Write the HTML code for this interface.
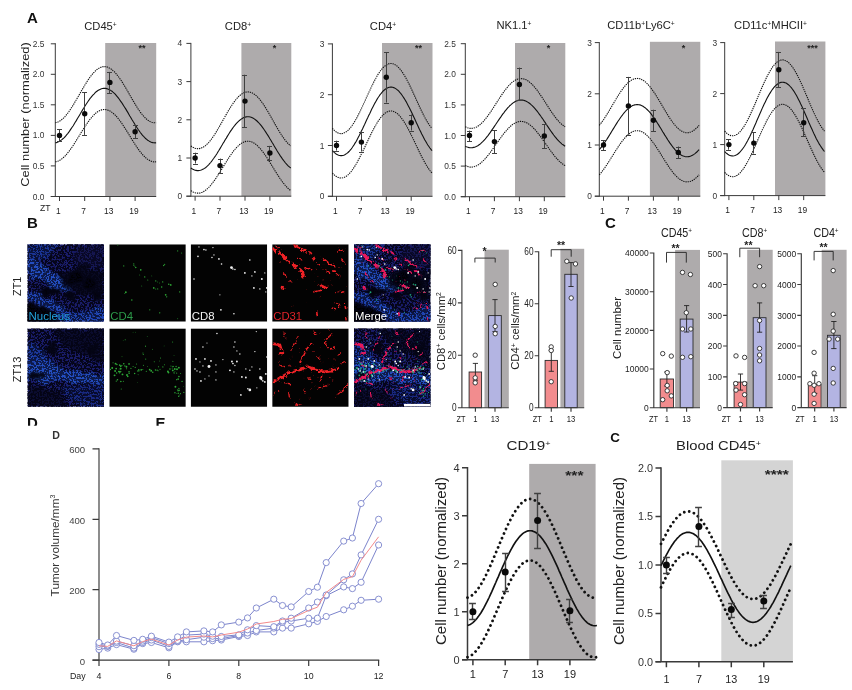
<!DOCTYPE html><html><head><meta charset="utf-8"><title>Figure</title><style>html,body{margin:0;padding:0;background:#fff}svg{display:block}text{font-family:"Liberation Sans", Arial, Helvetica, sans-serif}</style></head><body>
<svg width="852" height="690" viewBox="0 0 852 690">
<rect width="852" height="690" fill="#fff"/>
<defs>
<filter id="blur1" x="-20%" y="-20%" width="140%" height="140%" color-interpolation-filters="sRGB"><feTurbulence type="fractalNoise" baseFrequency="0.07" numOctaves="2" seed="8" result="t"/><feDisplacementMap in="SourceGraphic" in2="t" scale="16" xChannelSelector="R" yChannelSelector="G"/><feGaussianBlur stdDeviation="1.3"/></filter>
<filter id="blur2" x="-20%" y="-20%" width="140%" height="140%"><feGaussianBlur stdDeviation="0.55"/></filter>
<filter id="rag" x="-5%" y="-5%" width="110%" height="110%" color-interpolation-filters="sRGB"><feTurbulence type="fractalNoise" baseFrequency="0.22" numOctaves="2" seed="5" result="t"/><feDisplacementMap in="SourceGraphic" in2="t" scale="6" xChannelSelector="R" yChannelSelector="G" result="d"/><feColorMatrix in="t" type="matrix" values="0 0 0 0 0  0 0 0 0 0  0 0 0 0 0  0 0 12 0 -4.1" result="m"/><feComposite in="d" in2="m" operator="in"/><feGaussianBlur stdDeviation="0.35"/></filter>
<filter id="speck" x="0" y="0" width="100%" height="100%" color-interpolation-filters="sRGB"><feTurbulence type="fractalNoise" baseFrequency="0.42" numOctaves="3" seed="3"/><feColorMatrix type="matrix" values="0 0 0 0 0.02  0 0 0 0 0.02  0 0 0 0 0.1  14 0 0 0 -6.05"/></filter>
<filter id="speck2" x="0" y="0" width="100%" height="100%" color-interpolation-filters="sRGB"><feTurbulence type="fractalNoise" baseFrequency="0.42" numOctaves="3" seed="11"/><feColorMatrix type="matrix" values="0 0 0 0 0.02  0 0 0 0 0.02  0 0 0 0 0.1  14 0 0 0 -6.05"/></filter>
</defs>
<text x="27.0" y="23.0" font-size="15.00" text-anchor="start" fill="#111" font-weight="bold" >A</text>
<text transform="translate(28.7,114.5) rotate(-90)" font-size="10.30" text-anchor="middle" fill="#222" textLength="144.5" lengthAdjust="spacingAndGlyphs">Cell number (normalized)</text>
<text x="40.0" y="211.4" font-size="8.60" text-anchor="start" fill="#222" font-weight="normal" >ZT</text>
<rect x="105.2" y="43.0" width="51.0" height="153.5" fill="#AEABAC"/>
<path d="M55.3 43.2 V197.0 M50.8 196.5 H156.2" stroke="#3a3a3a" stroke-width="1.00" fill="none"/>
<text x="44.4" y="199.5" font-size="8.40" text-anchor="end" fill="#333" font-weight="normal" >0.0</text>
<text x="44.4" y="169.0" font-size="8.40" text-anchor="end" fill="#333" font-weight="normal" >0.5</text>
<text x="44.4" y="138.4" font-size="8.40" text-anchor="end" fill="#333" font-weight="normal" >1.0</text>
<text x="44.4" y="107.9" font-size="8.40" text-anchor="end" fill="#333" font-weight="normal" >1.5</text>
<text x="44.4" y="77.3" font-size="8.40" text-anchor="end" fill="#333" font-weight="normal" >2.0</text>
<text x="44.4" y="46.8" font-size="8.40" text-anchor="end" fill="#333" font-weight="normal" >2.5</text>
<text x="58.3" y="213.9" font-size="8.40" text-anchor="middle" fill="#222" font-weight="normal" >1</text>
<text x="83.5" y="213.9" font-size="8.40" text-anchor="middle" fill="#222" font-weight="normal" >7</text>
<text x="108.7" y="213.9" font-size="8.40" text-anchor="middle" fill="#222" font-weight="normal" >13</text>
<text x="133.9" y="213.9" font-size="8.40" text-anchor="middle" fill="#222" font-weight="normal" >19</text>
<path d="M50.8 196.5 H55.3 M50.8 165.9 H55.3 M50.8 135.4 H55.3 M50.8 104.8 H55.3 M50.8 74.3 H55.3 M50.8 43.8 H55.3 M59.5 196.5 V201.0 M84.7 196.5 V201.0 M109.9 196.5 V201.0 M135.1 196.5 V201.0 " stroke="#3a3a3a" stroke-width="1.00" fill="none"/>
<polyline points="55.3,142.8 56.3,142.6 57.4,142.3 58.4,141.8 59.5,141.3 60.5,140.6 61.6,139.9 62.6,139.0 63.7,138.1 64.8,137.0 65.8,135.9 66.8,134.6 67.9,133.3 69.0,131.9 70.0,130.4 71.0,128.9 72.1,127.3 73.2,125.7 74.2,124.0 75.2,122.3 76.3,120.6 77.3,118.8 78.4,117.0 79.5,115.2 80.5,113.5 81.5,111.7 82.6,109.9 83.7,108.2 84.7,106.5 85.8,104.8 86.8,103.2 87.8,101.7 88.9,100.2 89.9,98.7 91.0,97.4 92.0,96.1 93.1,94.9 94.2,93.8 95.2,92.7 96.2,91.8 97.3,91.0 98.3,90.3 99.4,89.7 100.4,89.2 101.5,88.8 102.5,88.5 103.6,88.4 104.7,88.4 105.7,88.4 106.8,88.6 107.8,88.9 108.8,89.4 109.9,89.9 111.0,90.6 112.0,91.3 113.0,92.2 114.1,93.1 115.2,94.2 116.2,95.4 117.2,96.6 118.3,97.9 119.3,99.3 120.4,100.8 121.5,102.3 122.5,103.9 123.5,105.5 124.6,107.2 125.7,108.9 126.7,110.6 127.8,112.4 128.8,114.2 129.8,116.0 130.9,117.7 131.9,119.5 133.0,121.3 134.1,123.0 135.1,124.7 136.2,126.4 137.2,128.0 138.2,129.5 139.3,131.0 140.3,132.5 141.4,133.8 142.4,135.1 143.5,136.3 144.6,137.4 145.6,138.5 146.7,139.4 147.7,140.2 148.8,140.9 149.8,141.5 150.8,142.0 151.9,142.4 152.9,142.7 154.0,142.8 155.1,142.9 156.1,142.8" fill="none" stroke="#111" stroke-width="1.10"/>
<polyline points="55.3,122.7 56.3,122.5 57.4,122.2 58.4,121.8 59.5,121.2 60.5,120.5 61.6,119.8 62.6,118.9 63.7,117.9 64.8,116.8 65.8,115.6 66.8,114.3 67.9,113.0 69.0,111.5 70.0,110.0 71.0,108.4 72.1,106.8 73.2,105.1 74.2,103.4 75.2,101.6 76.3,99.8 77.3,98.0 78.4,96.2 79.5,94.3 80.5,92.5 81.5,90.7 82.6,88.9 83.7,87.1 84.7,85.3 85.8,83.6 86.8,81.9 87.8,80.3 88.9,78.8 89.9,77.3 91.0,75.9 92.0,74.6 93.1,73.3 94.2,72.2 95.2,71.1 96.2,70.2 97.3,69.3 98.3,68.6 99.4,68.0 100.4,67.5 101.5,67.1 102.5,66.8 103.6,66.6 104.7,66.6 105.7,66.7 106.8,66.9 107.8,67.2 108.8,67.7 109.9,68.2 111.0,68.9 112.0,69.7 113.0,70.6 114.1,71.5 115.2,72.6 116.2,73.8 117.2,75.1 118.3,76.5 119.3,77.9 120.4,79.4 121.5,81.0 122.5,82.6 123.5,84.3 124.6,86.0 125.7,87.8 126.7,89.6 127.8,91.4 128.8,93.2 129.8,95.1 130.9,96.9 131.9,98.7 133.0,100.6 134.1,102.3 135.1,104.1 136.2,105.8 137.2,107.5 138.2,109.1 139.3,110.6 140.3,112.1 141.4,113.5 142.4,114.8 143.5,116.1 144.6,117.2 145.6,118.3 146.7,119.2 147.7,120.1 148.8,120.8 149.8,121.4 150.8,121.9 151.9,122.3 152.9,122.6 154.0,122.8 155.1,122.8 156.1,122.7" fill="none" stroke="#111" stroke-width="1.10" stroke-dasharray="1.3 0.9" stroke-linecap="butt"/>
<polyline points="55.3,161.8 56.3,161.6 57.4,161.3 58.4,160.9 59.5,160.4 60.5,159.8 61.6,159.1 62.6,158.2 63.7,157.3 64.8,156.3 65.8,155.2 66.8,154.0 67.9,152.7 69.0,151.4 70.0,150.0 71.0,148.5 72.1,147.0 73.2,145.4 74.2,143.8 75.2,142.2 76.3,140.5 77.3,138.8 78.4,137.1 79.5,135.4 80.5,133.6 81.5,131.9 82.6,130.3 83.7,128.6 84.7,127.0 85.8,125.4 86.8,123.8 87.8,122.3 88.9,120.9 89.9,119.5 91.0,118.2 92.0,116.9 93.1,115.8 94.2,114.7 95.2,113.7 96.2,112.8 97.3,112.0 98.3,111.4 99.4,110.8 100.4,110.3 101.5,109.9 102.5,109.7 103.6,109.5 104.7,109.5 105.7,109.6 106.8,109.8 107.8,110.1 108.8,110.5 109.9,111.0 111.0,111.6 112.0,112.4 113.0,113.2 114.1,114.1 115.2,115.1 116.2,116.2 117.2,117.4 118.3,118.7 119.3,120.0 120.4,121.4 121.5,122.9 122.5,124.4 123.5,126.0 124.6,127.6 125.7,129.3 126.7,130.9 127.8,132.6 128.8,134.3 129.8,136.0 130.9,137.8 131.9,139.5 133.0,141.2 134.1,142.8 135.1,144.5 136.2,146.1 137.2,147.6 138.2,149.1 139.3,150.6 140.3,151.9 141.4,153.2 142.4,154.5 143.5,155.6 144.6,156.7 145.6,157.7 146.7,158.6 147.7,159.4 148.8,160.1 149.8,160.6 150.8,161.1 151.9,161.5 152.9,161.7 154.0,161.9 155.1,161.9 156.1,161.8" fill="none" stroke="#111" stroke-width="1.10" stroke-dasharray="1.3 0.9" stroke-linecap="butt"/>
<path d="M59.5 129.3 V141.2 M57.0 129.5 H62.0 M57.0 141.5 H62.0" stroke="#404040" stroke-width="1.00" fill="none"/>
<circle cx="59.5" cy="135.4" r="2.7" fill="#0a0a0a"/>
<path d="M84.5 92.0 V134.9 M82.0 92.5 H87.0 M82.0 135.5 H87.0" stroke="#404040" stroke-width="1.00" fill="none"/>
<circle cx="84.7" cy="113.7" r="2.7" fill="#0a0a0a"/>
<path d="M109.5 71.9 V93.2 M107.0 72.5 H112.0 M107.0 93.5 H112.0" stroke="#404040" stroke-width="1.00" fill="none"/>
<circle cx="109.9" cy="82.4" r="2.7" fill="#0a0a0a"/>
<path d="M135.5 125.0 V138.0 M133.0 125.5 H138.0 M133.0 138.5 H138.0" stroke="#404040" stroke-width="1.00" fill="none"/>
<circle cx="135.1" cy="131.7" r="2.7" fill="#0a0a0a"/>
<text x="100.5" y="30.2" font-size="11.20" text-anchor="middle" fill="#222" font-weight="normal" >CD45<tspan dy="-3.7" font-size="6.7">+</tspan></text>
<text x="142.0" y="50.5" font-size="9.00" text-anchor="middle" fill="#222" font-weight="bold" >**</text>
<rect x="241.4" y="43.0" width="49.9" height="153.2" fill="#AEABAC"/>
<path d="M190.9 42.9 V196.7 M186.4 196.2 H291.3" stroke="#3a3a3a" stroke-width="1.00" fill="none"/>
<text x="182.2" y="199.2" font-size="8.40" text-anchor="end" fill="#333" font-weight="normal" >0</text>
<text x="182.2" y="161.0" font-size="8.40" text-anchor="end" fill="#333" font-weight="normal" >1</text>
<text x="182.2" y="122.8" font-size="8.40" text-anchor="end" fill="#333" font-weight="normal" >2</text>
<text x="182.2" y="84.6" font-size="8.40" text-anchor="end" fill="#333" font-weight="normal" >3</text>
<text x="182.2" y="46.4" font-size="8.40" text-anchor="end" fill="#333" font-weight="normal" >4</text>
<text x="193.9" y="213.9" font-size="8.40" text-anchor="middle" fill="#222" font-weight="normal" >1</text>
<text x="218.8" y="213.9" font-size="8.40" text-anchor="middle" fill="#222" font-weight="normal" >7</text>
<text x="243.8" y="213.9" font-size="8.40" text-anchor="middle" fill="#222" font-weight="normal" >13</text>
<text x="268.7" y="213.9" font-size="8.40" text-anchor="middle" fill="#222" font-weight="normal" >19</text>
<path d="M186.4 196.2 H190.9 M186.4 158.0 H190.9 M186.4 119.8 H190.9 M186.4 81.6 H190.9 M186.4 43.4 H190.9 M195.1 196.2 V200.7 M220.0 196.2 V200.7 M245.0 196.2 V200.7 M269.9 196.2 V200.7 " stroke="#3a3a3a" stroke-width="1.00" fill="none"/>
<polyline points="190.9,168.0 191.9,168.7 193.0,169.3 194.0,169.8 195.1,170.2 196.1,170.4 197.1,170.6 198.2,170.6 199.2,170.5 200.3,170.3 201.3,170.0 202.3,169.6 203.4,169.1 204.4,168.4 205.5,167.7 206.5,166.8 207.5,165.9 208.6,164.8 209.6,163.7 210.7,162.5 211.7,161.2 212.7,159.8 213.8,158.3 214.8,156.8 215.9,155.3 216.9,153.7 217.9,152.0 219.0,150.3 220.0,148.6 221.1,146.8 222.1,145.1 223.1,143.3 224.2,141.6 225.2,139.8 226.3,138.1 227.3,136.4 228.3,134.7 229.4,133.0 230.4,131.4 231.5,129.9 232.5,128.4 233.5,127.0 234.6,125.7 235.6,124.4 236.7,123.2 237.7,122.1 238.7,121.1 239.8,120.2 240.8,119.4 241.9,118.7 242.9,118.1 243.9,117.6 245.0,117.2 246.0,116.9 247.1,116.8 248.1,116.7 249.1,116.8 250.2,117.0 251.2,117.3 252.3,117.8 253.3,118.3 254.3,118.9 255.4,119.7 256.4,120.5 257.5,121.5 258.5,122.5 259.5,123.7 260.6,124.9 261.6,126.2 262.7,127.6 263.7,129.0 264.7,130.5 265.8,132.1 266.8,133.7 267.9,135.4 268.9,137.0 269.9,138.8 271.0,140.5 272.0,142.3 273.1,144.0 274.1,145.8 275.1,147.5 276.2,149.3 277.2,151.0 278.3,152.7 279.3,154.3 280.3,155.9 281.4,157.4 282.4,158.9 283.5,160.3 284.5,161.7 285.5,163.0 286.6,164.2 287.6,165.3 288.7,166.3 289.7,167.2 290.7,168.0" fill="none" stroke="#111" stroke-width="1.10"/>
<polyline points="190.9,145.9 191.9,146.7 193.0,147.3 194.0,147.8 195.1,148.2 196.1,148.5 197.1,148.6 198.2,148.7 199.2,148.6 200.3,148.4 201.3,148.1 202.3,147.6 203.4,147.1 204.4,146.4 205.5,145.6 206.5,144.7 207.5,143.7 208.6,142.6 209.6,141.4 210.7,140.1 211.7,138.7 212.7,137.3 213.8,135.8 214.8,134.2 215.9,132.5 216.9,130.8 217.9,129.1 219.0,127.3 220.0,125.5 221.1,123.6 222.1,121.8 223.1,119.9 224.2,118.1 225.2,116.2 226.3,114.4 227.3,112.6 228.3,110.8 229.4,109.1 230.4,107.4 231.5,105.8 232.5,104.2 233.5,102.7 234.6,101.3 235.6,100.0 236.7,98.7 237.7,97.6 238.7,96.5 239.8,95.5 240.8,94.7 241.9,93.9 242.9,93.3 243.9,92.8 245.0,92.4 246.0,92.1 247.1,92.0 248.1,91.9 249.1,92.0 250.2,92.2 251.2,92.5 252.3,93.0 253.3,93.5 254.3,94.2 255.4,95.0 256.4,95.9 257.5,96.9 258.5,98.0 259.5,99.2 260.6,100.5 261.6,101.9 262.7,103.3 263.7,104.8 264.7,106.4 265.8,108.1 266.8,109.8 267.9,111.5 268.9,113.3 269.9,115.1 271.0,117.0 272.0,118.8 273.1,120.7 274.1,122.5 275.1,124.4 276.2,126.2 277.2,128.0 278.3,129.8 279.3,131.5 280.3,133.2 281.4,134.8 282.4,136.4 283.5,137.9 284.5,139.3 285.5,140.6 286.6,141.9 287.6,143.0 288.7,144.1 289.7,145.1 290.7,145.9" fill="none" stroke="#111" stroke-width="1.10" stroke-dasharray="1.3 0.9" stroke-linecap="butt"/>
<polyline points="190.9,190.6 191.9,191.3 193.0,191.9 194.0,192.3 195.1,192.7 196.1,193.0 197.1,193.1 198.2,193.1 199.2,193.1 200.3,192.9 201.3,192.6 202.3,192.2 203.4,191.7 204.4,191.0 205.5,190.3 206.5,189.5 207.5,188.6 208.6,187.6 209.6,186.5 210.7,185.3 211.7,184.0 212.7,182.7 213.8,181.3 214.8,179.9 215.9,178.4 216.9,176.8 217.9,175.2 219.0,173.6 220.0,171.9 221.1,170.2 222.1,168.5 223.1,166.8 224.2,165.1 225.2,163.4 226.3,161.8 227.3,160.1 228.3,158.5 229.4,156.9 230.4,155.4 231.5,153.9 232.5,152.5 233.5,151.1 234.6,149.8 235.6,148.6 236.7,147.4 237.7,146.4 238.7,145.4 239.8,144.5 240.8,143.7 241.9,143.0 242.9,142.5 243.9,142.0 245.0,141.6 246.0,141.4 247.1,141.2 248.1,141.2 249.1,141.3 250.2,141.5 251.2,141.8 252.3,142.2 253.3,142.7 254.3,143.3 255.4,144.0 256.4,144.8 257.5,145.8 258.5,146.8 259.5,147.9 260.6,149.0 261.6,150.3 262.7,151.6 263.7,153.0 264.7,154.5 265.8,156.0 266.8,157.5 267.9,159.1 268.9,160.8 269.9,162.4 271.0,164.1 272.0,165.8 273.1,167.5 274.1,169.2 275.1,170.9 276.2,172.6 277.2,174.2 278.3,175.8 279.3,177.4 280.3,179.0 281.4,180.4 282.4,181.9 283.5,183.2 284.5,184.5 285.5,185.8 286.6,186.9 287.6,188.0 288.7,189.0 289.7,189.8 290.7,190.6" fill="none" stroke="#111" stroke-width="1.10" stroke-dasharray="1.3 0.9" stroke-linecap="butt"/>
<path d="M195.5 152.7 V163.5 M193.0 153.5 H198.0 M193.0 164.5 H198.0" stroke="#404040" stroke-width="1.00" fill="none"/>
<circle cx="195.1" cy="158.0" r="2.7" fill="#0a0a0a"/>
<path d="M220.5 158.6 V172.9 M218.0 159.5 H223.0 M218.0 173.5 H223.0" stroke="#404040" stroke-width="1.00" fill="none"/>
<circle cx="220.0" cy="165.6" r="2.7" fill="#0a0a0a"/>
<path d="M244.5 74.7 V127.4 M242.0 75.5 H247.0 M242.0 127.5 H247.0" stroke="#404040" stroke-width="1.00" fill="none"/>
<circle cx="245.0" cy="101.1" r="2.7" fill="#0a0a0a"/>
<path d="M269.5 145.9 V160.3 M267.0 146.5 H272.0 M267.0 160.5 H272.0" stroke="#404040" stroke-width="1.00" fill="none"/>
<circle cx="269.9" cy="153.0" r="2.7" fill="#0a0a0a"/>
<text x="238.0" y="30.2" font-size="11.20" text-anchor="middle" fill="#222" font-weight="normal" >CD8<tspan dy="-3.7" font-size="6.7">+</tspan></text>
<text x="274.5" y="50.5" font-size="9.00" text-anchor="middle" fill="#222" font-weight="bold" >*</text>
<rect x="382.0" y="43.0" width="50.5" height="153.3" fill="#AEABAC"/>
<path d="M332.4 43.4 V196.8 M327.9 196.3 H432.5" stroke="#3a3a3a" stroke-width="1.00" fill="none"/>
<text x="324.3" y="199.3" font-size="8.40" text-anchor="end" fill="#333" font-weight="normal" >0</text>
<text x="324.3" y="148.5" font-size="8.40" text-anchor="end" fill="#333" font-weight="normal" >1</text>
<text x="324.3" y="97.7" font-size="8.40" text-anchor="end" fill="#333" font-weight="normal" >2</text>
<text x="324.3" y="46.9" font-size="8.40" text-anchor="end" fill="#333" font-weight="normal" >3</text>
<text x="335.3" y="213.9" font-size="8.40" text-anchor="middle" fill="#222" font-weight="normal" >1</text>
<text x="360.2" y="213.9" font-size="8.40" text-anchor="middle" fill="#222" font-weight="normal" >7</text>
<text x="385.1" y="213.9" font-size="8.40" text-anchor="middle" fill="#222" font-weight="normal" >13</text>
<text x="410.1" y="213.9" font-size="8.40" text-anchor="middle" fill="#222" font-weight="normal" >19</text>
<path d="M327.9 196.3 H332.4 M327.9 145.5 H332.4 M327.9 94.7 H332.4 M327.9 43.9 H332.4 M336.5 196.3 V200.8 M361.4 196.3 V200.8 M386.3 196.3 V200.8 M411.2 196.3 V200.8 " stroke="#3a3a3a" stroke-width="1.00" fill="none"/>
<polyline points="332.4,150.6 333.4,151.7 334.5,152.7 335.5,153.5 336.5,154.2 337.6,154.8 338.6,155.2 339.7,155.5 340.7,155.6 341.7,155.6 342.8,155.5 343.8,155.2 344.8,154.7 345.9,154.1 346.9,153.4 348.0,152.5 349.0,151.5 350.0,150.4 351.1,149.1 352.1,147.7 353.1,146.2 354.2,144.6 355.2,142.9 356.3,141.2 357.3,139.3 358.3,137.3 359.4,135.3 360.4,133.2 361.4,131.1 362.5,128.9 363.5,126.7 364.6,124.5 365.6,122.3 366.6,120.0 367.7,117.8 368.7,115.6 369.8,113.4 370.8,111.2 371.8,109.1 372.9,107.0 373.9,105.0 374.9,103.1 376.0,101.2 377.0,99.4 378.0,97.8 379.1,96.2 380.1,94.7 381.2,93.4 382.2,92.1 383.2,91.0 384.3,90.0 385.3,89.2 386.3,88.5 387.4,87.9 388.4,87.5 389.5,87.2 390.5,87.1 391.5,87.1 392.6,87.3 393.6,87.6 394.6,88.0 395.7,88.6 396.7,89.4 397.8,90.2 398.8,91.2 399.8,92.4 400.9,93.6 401.9,95.0 402.9,96.5 404.0,98.1 405.0,99.8 406.1,101.6 407.1,103.5 408.1,105.4 409.2,107.4 410.2,109.5 411.2,111.6 412.3,113.8 413.3,116.0 414.4,118.2 415.4,120.5 416.4,122.7 417.5,125.0 418.5,127.2 419.5,129.4 420.6,131.5 421.6,133.7 422.7,135.7 423.7,137.7 424.7,139.7 425.8,141.5 426.8,143.3 427.8,145.0 428.9,146.5 429.9,148.0 431.0,149.4 432.0,150.6" fill="none" stroke="#111" stroke-width="1.10"/>
<polyline points="332.4,128.4 333.4,129.6 334.5,130.6 335.5,131.4 336.5,132.2 337.6,132.7 338.6,133.2 339.7,133.5 340.7,133.6 341.7,133.6 342.8,133.4 343.8,133.1 344.8,132.6 345.9,132.0 346.9,131.3 348.0,130.4 349.0,129.4 350.0,128.2 351.1,126.9 352.1,125.5 353.1,124.0 354.2,122.4 355.2,120.6 356.3,118.8 357.3,116.9 358.3,114.9 359.4,112.8 360.4,110.7 361.4,108.5 362.5,106.3 363.5,104.0 364.6,101.8 365.6,99.5 366.6,97.2 367.7,94.9 368.7,92.6 369.8,90.4 370.8,88.2 371.8,86.0 372.9,83.9 373.9,81.8 374.9,79.9 376.0,78.0 377.0,76.1 378.0,74.4 379.1,72.8 380.1,71.3 381.2,69.9 382.2,68.7 383.2,67.5 384.3,66.5 385.3,65.7 386.3,65.0 387.4,64.4 388.4,63.9 389.5,63.7 390.5,63.5 391.5,63.5 392.6,63.7 393.6,64.0 394.6,64.5 395.7,65.1 396.7,65.8 397.8,66.7 398.8,67.8 399.8,68.9 400.9,70.2 401.9,71.6 402.9,73.1 404.0,74.8 405.0,76.5 406.1,78.3 407.1,80.2 408.1,82.2 409.2,84.3 410.2,86.4 411.2,88.6 412.3,90.8 413.3,93.1 414.4,95.4 415.4,97.6 416.4,99.9 417.5,102.2 418.5,104.5 419.5,106.7 420.6,109.0 421.6,111.1 422.7,113.2 423.7,115.3 424.7,117.3 425.8,119.2 426.8,121.0 427.8,122.7 428.9,124.3 429.9,125.8 431.0,127.2 432.0,128.4" fill="none" stroke="#111" stroke-width="1.10" stroke-dasharray="1.3 0.9" stroke-linecap="butt"/>
<polyline points="332.4,173.1 333.4,174.2 334.5,175.1 335.5,175.9 336.5,176.6 337.6,177.2 338.6,177.6 339.7,177.9 340.7,178.0 341.7,178.0 342.8,177.8 343.8,177.5 344.8,177.1 345.9,176.5 346.9,175.8 348.0,174.9 349.0,173.9 350.0,172.8 351.1,171.6 352.1,170.3 353.1,168.8 354.2,167.2 355.2,165.6 356.3,163.8 357.3,162.0 358.3,160.1 359.4,158.1 360.4,156.1 361.4,154.0 362.5,151.9 363.5,149.7 364.6,147.6 365.6,145.4 366.6,143.2 367.7,141.0 368.7,138.8 369.8,136.7 370.8,134.5 371.8,132.5 372.9,130.4 373.9,128.5 374.9,126.6 376.0,124.8 377.0,123.0 378.0,121.4 379.1,119.9 380.1,118.4 381.2,117.1 382.2,115.9 383.2,114.8 384.3,113.9 385.3,113.0 386.3,112.3 387.4,111.8 388.4,111.4 389.5,111.1 390.5,111.0 391.5,111.0 392.6,111.1 393.6,111.4 394.6,111.9 395.7,112.5 396.7,113.2 397.8,114.0 398.8,115.0 399.8,116.1 400.9,117.4 401.9,118.7 402.9,120.2 404.0,121.7 405.0,123.4 406.1,125.1 407.1,127.0 408.1,128.9 409.2,130.8 410.2,132.9 411.2,135.0 412.3,137.1 413.3,139.2 414.4,141.4 415.4,143.6 416.4,145.8 417.5,148.0 418.5,150.2 419.5,152.3 420.6,154.4 421.6,156.5 422.7,158.5 423.7,160.5 424.7,162.4 425.8,164.2 426.8,165.9 427.8,167.6 428.9,169.1 429.9,170.5 431.0,171.9 432.0,173.1" fill="none" stroke="#111" stroke-width="1.10" stroke-dasharray="1.3 0.9" stroke-linecap="butt"/>
<path d="M336.5 140.7 V150.6 M334.0 141.5 H339.0 M334.0 151.5 H339.0" stroke="#404040" stroke-width="1.00" fill="none"/>
<circle cx="336.5" cy="145.5" r="2.7" fill="#0a0a0a"/>
<path d="M361.5 132.3 V151.6 M359.0 132.5 H364.0 M359.0 152.5 H364.0" stroke="#404040" stroke-width="1.00" fill="none"/>
<circle cx="361.4" cy="142.1" r="2.7" fill="#0a0a0a"/>
<path d="M386.5 52.0 V102.6 M384.0 52.5 H389.0 M384.0 103.5 H389.0" stroke="#404040" stroke-width="1.00" fill="none"/>
<circle cx="386.3" cy="77.2" r="2.7" fill="#0a0a0a"/>
<path d="M411.5 114.5 V130.5 M409.0 115.5 H414.0 M409.0 131.5 H414.0" stroke="#404040" stroke-width="1.00" fill="none"/>
<circle cx="411.2" cy="122.7" r="2.7" fill="#0a0a0a"/>
<text x="383.0" y="30.2" font-size="11.20" text-anchor="middle" fill="#222" font-weight="normal" >CD4<tspan dy="-3.7" font-size="6.7">+</tspan></text>
<text x="418.4" y="50.5" font-size="9.00" text-anchor="middle" fill="#222" font-weight="bold" >**</text>
<rect x="515.0" y="43.0" width="50.3" height="153.7" fill="#AEABAC"/>
<path d="M465.3 43.2 V197.2 M460.8 196.7 H565.3" stroke="#3a3a3a" stroke-width="1.00" fill="none"/>
<text x="455.8" y="199.7" font-size="8.40" text-anchor="end" fill="#333" font-weight="normal" >0.0</text>
<text x="455.8" y="169.1" font-size="8.40" text-anchor="end" fill="#333" font-weight="normal" >0.5</text>
<text x="455.8" y="138.5" font-size="8.40" text-anchor="end" fill="#333" font-weight="normal" >1.0</text>
<text x="455.8" y="107.9" font-size="8.40" text-anchor="end" fill="#333" font-weight="normal" >1.5</text>
<text x="455.8" y="77.3" font-size="8.40" text-anchor="end" fill="#333" font-weight="normal" >2.0</text>
<text x="455.8" y="46.7" font-size="8.40" text-anchor="end" fill="#333" font-weight="normal" >2.5</text>
<text x="468.3" y="213.9" font-size="8.40" text-anchor="middle" fill="#222" font-weight="normal" >1</text>
<text x="493.2" y="213.9" font-size="8.40" text-anchor="middle" fill="#222" font-weight="normal" >7</text>
<text x="518.2" y="213.9" font-size="8.40" text-anchor="middle" fill="#222" font-weight="normal" >13</text>
<text x="543.1" y="213.9" font-size="8.40" text-anchor="middle" fill="#222" font-weight="normal" >19</text>
<path d="M460.8 196.7 H465.3 M460.8 166.1 H465.3 M460.8 135.5 H465.3 M460.8 104.9 H465.3 M460.8 74.3 H465.3 M460.8 43.7 H465.3 M469.5 196.7 V201.2 M494.4 196.7 V201.2 M519.4 196.7 V201.2 M544.3 196.7 V201.2 " stroke="#3a3a3a" stroke-width="1.00" fill="none"/>
<polyline points="465.3,146.2 466.3,146.7 467.4,147.1 468.4,147.4 469.5,147.6 470.5,147.7 471.5,147.7 472.6,147.6 473.6,147.4 474.7,147.2 475.7,146.8 476.7,146.3 477.8,145.7 478.8,145.0 479.9,144.2 480.9,143.4 481.9,142.4 483.0,141.4 484.0,140.3 485.1,139.1 486.1,137.9 487.1,136.6 488.2,135.3 489.2,133.9 490.3,132.4 491.3,130.9 492.3,129.4 493.4,127.9 494.4,126.4 495.5,124.8 496.5,123.2 497.5,121.7 498.6,120.1 499.6,118.6 500.7,117.1 501.7,115.6 502.7,114.2 503.8,112.8 504.8,111.4 505.9,110.1 506.9,108.9 507.9,107.7 509.0,106.6 510.0,105.5 511.1,104.6 512.1,103.7 513.1,102.9 514.2,102.2 515.2,101.6 516.3,101.1 517.3,100.7 518.3,100.3 519.4,100.1 520.4,100.0 521.5,100.0 522.5,100.1 523.5,100.3 524.6,100.6 525.6,101.0 526.7,101.5 527.7,102.1 528.7,102.7 529.8,103.5 530.8,104.4 531.9,105.3 532.9,106.3 533.9,107.4 535.0,108.6 536.0,109.8 537.1,111.1 538.1,112.5 539.1,113.9 540.2,115.3 541.2,116.8 542.3,118.3 543.3,119.8 544.3,121.4 545.4,122.9 546.4,124.5 547.5,126.1 548.5,127.6 549.5,129.1 550.6,130.7 551.6,132.1 552.7,133.6 553.7,135.0 554.7,136.3 555.8,137.6 556.8,138.9 557.9,140.1 558.9,141.2 559.9,142.2 561.0,143.2 562.0,144.1 563.1,144.8 564.1,145.5 565.1,146.2" fill="none" stroke="#111" stroke-width="1.10"/>
<polyline points="465.3,126.7 466.3,127.3 467.4,127.7 468.4,128.0 469.5,128.3 470.5,128.4 471.5,128.4 472.6,128.3 473.6,128.1 474.7,127.8 475.7,127.4 476.7,126.9 477.8,126.2 478.8,125.5 479.9,124.7 480.9,123.8 481.9,122.8 483.0,121.8 484.0,120.6 485.1,119.4 486.1,118.1 487.1,116.8 488.2,115.4 489.2,113.9 490.3,112.4 491.3,110.9 492.3,109.3 493.4,107.7 494.4,106.1 495.5,104.5 496.5,102.8 497.5,101.2 498.6,99.6 499.6,98.0 500.7,96.4 501.7,94.9 502.7,93.4 503.8,91.9 504.8,90.5 505.9,89.1 506.9,87.8 507.9,86.6 509.0,85.4 510.0,84.3 511.1,83.3 512.1,82.4 513.1,81.6 514.2,80.9 515.2,80.2 516.3,79.7 517.3,79.3 518.3,78.9 519.4,78.7 520.4,78.6 521.5,78.6 522.5,78.7 523.5,78.9 524.6,79.2 525.6,79.6 526.7,80.1 527.7,80.7 528.7,81.4 529.8,82.3 530.8,83.2 531.9,84.1 532.9,85.2 533.9,86.3 535.0,87.6 536.0,88.9 537.1,90.2 538.1,91.6 539.1,93.1 540.2,94.6 541.2,96.1 542.3,97.7 543.3,99.3 544.3,100.9 545.4,102.5 546.4,104.1 547.5,105.8 548.5,107.4 549.5,109.0 550.6,110.6 551.6,112.1 552.7,113.6 553.7,115.1 554.7,116.5 555.8,117.9 556.8,119.2 557.9,120.4 558.9,121.6 559.9,122.6 561.0,123.6 562.0,124.6 563.1,125.4 564.1,126.1 565.1,126.7" fill="none" stroke="#111" stroke-width="1.10" stroke-dasharray="1.3 0.9" stroke-linecap="butt"/>
<polyline points="465.3,165.6 466.3,166.1 467.4,166.4 468.4,166.7 469.5,167.0 470.5,167.1 471.5,167.1 472.6,167.0 473.6,166.8 474.7,166.5 475.7,166.1 476.7,165.7 477.8,165.1 478.8,164.5 479.9,163.7 480.9,162.9 481.9,162.0 483.0,161.0 484.0,160.0 485.1,158.8 486.1,157.7 487.1,156.4 488.2,155.1 489.2,153.8 490.3,152.4 491.3,151.0 492.3,149.6 493.4,148.1 494.4,146.6 495.5,145.1 496.5,143.7 497.5,142.2 498.6,140.7 499.6,139.2 500.7,137.8 501.7,136.4 502.7,135.0 503.8,133.6 504.8,132.3 505.9,131.1 506.9,129.9 507.9,128.8 509.0,127.7 510.0,126.7 511.1,125.8 512.1,124.9 513.1,124.2 514.2,123.5 515.2,122.9 516.3,122.5 517.3,122.1 518.3,121.8 519.4,121.5 520.4,121.4 521.5,121.4 522.5,121.5 523.5,121.7 524.6,122.0 525.6,122.4 526.7,122.8 527.7,123.4 528.7,124.0 529.8,124.8 530.8,125.6 531.9,126.5 532.9,127.5 533.9,128.5 535.0,129.7 536.0,130.8 537.1,132.1 538.1,133.4 539.1,134.7 540.2,136.1 541.2,137.5 542.3,138.9 543.3,140.4 544.3,141.9 545.4,143.4 546.4,144.8 547.5,146.3 548.5,147.8 549.5,149.3 550.6,150.7 551.6,152.2 552.7,153.5 553.7,154.9 554.7,156.2 555.8,157.4 556.8,158.6 557.9,159.7 558.9,160.8 559.9,161.8 561.0,162.7 562.0,163.6 563.1,164.3 564.1,165.0 565.1,165.6" fill="none" stroke="#111" stroke-width="1.10" stroke-dasharray="1.3 0.9" stroke-linecap="butt"/>
<path d="M469.5 130.6 V141.3 M467.0 131.5 H472.0 M467.0 141.5 H472.0" stroke="#404040" stroke-width="1.00" fill="none"/>
<circle cx="469.5" cy="135.5" r="2.7" fill="#0a0a0a"/>
<path d="M494.5 130.1 V153.3 M492.0 130.5 H497.0 M492.0 153.5 H497.0" stroke="#404040" stroke-width="1.00" fill="none"/>
<circle cx="494.4" cy="141.6" r="2.7" fill="#0a0a0a"/>
<path d="M519.5 67.6 V100.0 M517.0 68.5 H522.0 M517.0 100.5 H522.0" stroke="#404040" stroke-width="1.00" fill="none"/>
<circle cx="519.4" cy="84.5" r="2.7" fill="#0a0a0a"/>
<path d="M544.5 124.5 V148.0 M542.0 124.5 H547.0 M542.0 148.5 H547.0" stroke="#404040" stroke-width="1.00" fill="none"/>
<circle cx="544.3" cy="136.0" r="2.7" fill="#0a0a0a"/>
<text x="514.0" y="29.2" font-size="11.20" text-anchor="middle" fill="#222" font-weight="normal" >NK1.1<tspan dy="-3.7" font-size="6.7">+</tspan></text>
<text x="548.4" y="50.5" font-size="9.00" text-anchor="middle" fill="#222" font-weight="bold" >*</text>
<rect x="649.9" y="41.8" width="50.4" height="154.4" fill="#AEABAC"/>
<path d="M599.3 42.1 V196.7 M594.8 196.2 H700.3" stroke="#3a3a3a" stroke-width="1.00" fill="none"/>
<text x="591.8" y="199.2" font-size="8.40" text-anchor="end" fill="#333" font-weight="normal" >0</text>
<text x="591.8" y="148.0" font-size="8.40" text-anchor="end" fill="#333" font-weight="normal" >1</text>
<text x="591.8" y="96.8" font-size="8.40" text-anchor="end" fill="#333" font-weight="normal" >2</text>
<text x="591.8" y="45.6" font-size="8.40" text-anchor="end" fill="#333" font-weight="normal" >3</text>
<text x="602.3" y="213.9" font-size="8.40" text-anchor="middle" fill="#222" font-weight="normal" >1</text>
<text x="627.2" y="213.9" font-size="8.40" text-anchor="middle" fill="#222" font-weight="normal" >7</text>
<text x="652.2" y="213.9" font-size="8.40" text-anchor="middle" fill="#222" font-weight="normal" >13</text>
<text x="677.1" y="213.9" font-size="8.40" text-anchor="middle" fill="#222" font-weight="normal" >19</text>
<path d="M594.8 196.2 H599.3 M594.8 145.0 H599.3 M594.8 93.8 H599.3 M594.8 42.6 H599.3 M603.5 196.2 V200.7 M628.4 196.2 V200.7 M653.4 196.2 V200.7 M678.3 196.2 V200.7 " stroke="#3a3a3a" stroke-width="1.00" fill="none"/>
<polyline points="599.3,149.6 600.3,148.4 601.4,147.1 602.4,145.7 603.5,144.3 604.5,142.8 605.5,141.3 606.6,139.7 607.6,138.1 608.7,136.4 609.7,134.7 610.7,133.1 611.8,131.3 612.8,129.6 613.9,127.9 614.9,126.2 615.9,124.6 617.0,122.9 618.0,121.3 619.1,119.7 620.1,118.2 621.1,116.7 622.2,115.3 623.2,114.0 624.3,112.7 625.3,111.5 626.3,110.4 627.4,109.3 628.4,108.4 629.5,107.6 630.5,106.8 631.5,106.2 632.6,105.6 633.6,105.2 634.7,104.9 635.7,104.7 636.7,104.6 637.8,104.6 638.8,104.7 639.9,104.9 640.9,105.3 641.9,105.7 643.0,106.3 644.0,107.0 645.1,107.7 646.1,108.6 647.1,109.5 648.2,110.6 649.2,111.7 650.3,112.9 651.3,114.2 652.3,115.6 653.4,117.0 654.4,118.5 655.5,120.0 656.5,121.6 657.5,123.2 658.6,124.9 659.6,126.6 660.7,128.3 661.7,130.0 662.7,131.7 663.8,133.4 664.8,135.1 665.9,136.8 666.9,138.4 667.9,140.0 669.0,141.6 670.0,143.1 671.1,144.6 672.1,146.0 673.1,147.4 674.2,148.6 675.2,149.8 676.3,151.0 677.3,152.0 678.3,152.9 679.4,153.8 680.4,154.5 681.5,155.2 682.5,155.7 683.5,156.1 684.6,156.5 685.6,156.7 686.7,156.8 687.7,156.8 688.7,156.6 689.8,156.4 690.8,156.1 691.9,155.6 692.9,155.0 693.9,154.4 695.0,153.6 696.0,152.7 697.1,151.8 698.1,150.7 699.1,149.6" fill="none" stroke="#111" stroke-width="1.10"/>
<polyline points="599.3,125.3 600.3,124.0 601.4,122.7 602.4,121.2 603.5,119.8 604.5,118.2 605.5,116.6 606.6,115.0 607.6,113.3 608.7,111.6 609.7,109.8 610.7,108.1 611.8,106.3 612.8,104.5 613.9,102.7 614.9,101.0 615.9,99.2 617.0,97.5 618.0,95.9 619.1,94.2 620.1,92.6 621.1,91.1 622.2,89.6 623.2,88.2 624.3,86.9 625.3,85.6 626.3,84.5 627.4,83.4 628.4,82.4 629.5,81.6 630.5,80.8 631.5,80.1 632.6,79.6 633.6,79.1 634.7,78.8 635.7,78.6 636.7,78.4 637.8,78.5 638.8,78.6 639.9,78.8 640.9,79.2 641.9,79.7 643.0,80.2 644.0,80.9 645.1,81.7 646.1,82.6 647.1,83.6 648.2,84.7 649.2,85.9 650.3,87.2 651.3,88.5 652.3,89.9 653.4,91.4 654.4,92.9 655.5,94.5 656.5,96.2 657.5,97.9 658.6,99.6 659.6,101.3 660.7,103.1 661.7,104.9 662.7,106.6 663.8,108.4 664.8,110.2 665.9,111.9 666.9,113.6 667.9,115.3 669.0,116.9 670.0,118.5 671.1,120.1 672.1,121.5 673.1,122.9 674.2,124.3 675.2,125.5 676.3,126.7 677.3,127.7 678.3,128.7 679.4,129.6 680.4,130.4 681.5,131.0 682.5,131.6 683.5,132.0 684.6,132.4 685.6,132.6 686.7,132.7 687.7,132.7 688.7,132.6 689.8,132.3 690.8,132.0 691.9,131.5 692.9,130.9 693.9,130.2 695.0,129.4 696.0,128.5 697.1,127.5 698.1,126.4 699.1,125.3" fill="none" stroke="#111" stroke-width="1.10" stroke-dasharray="1.3 0.9" stroke-linecap="butt"/>
<polyline points="599.3,174.8 600.3,173.6 601.4,172.4 602.4,171.0 603.5,169.6 604.5,168.2 605.5,166.7 606.6,165.1 607.6,163.5 608.7,161.9 609.7,160.3 610.7,158.6 611.8,156.9 612.8,155.3 613.9,153.6 614.9,151.9 615.9,150.3 617.0,148.7 618.0,147.1 619.1,145.5 620.1,144.0 621.1,142.6 622.2,141.2 623.2,139.9 624.3,138.6 625.3,137.5 626.3,136.4 627.4,135.4 628.4,134.4 629.5,133.6 630.5,132.9 631.5,132.2 632.6,131.7 633.6,131.3 634.7,131.0 635.7,130.8 636.7,130.7 637.8,130.7 638.8,130.8 639.9,131.0 640.9,131.4 641.9,131.8 643.0,132.4 644.0,133.0 645.1,133.8 646.1,134.6 647.1,135.6 648.2,136.6 649.2,137.7 650.3,138.9 651.3,140.2 652.3,141.5 653.4,142.9 654.4,144.3 655.5,145.9 656.5,147.4 657.5,149.0 658.6,150.6 659.6,152.3 660.7,153.9 661.7,155.6 662.7,157.3 663.8,158.9 664.8,160.6 665.9,162.2 666.9,163.9 667.9,165.4 669.0,167.0 670.0,168.5 671.1,169.9 672.1,171.3 673.1,172.6 674.2,173.9 675.2,175.1 676.3,176.2 677.3,177.2 678.3,178.1 679.4,178.9 680.4,179.7 681.5,180.3 682.5,180.8 683.5,181.2 684.6,181.5 685.6,181.8 686.7,181.9 687.7,181.8 688.7,181.7 689.8,181.5 690.8,181.2 691.9,180.7 692.9,180.2 693.9,179.5 695.0,178.8 696.0,177.9 697.1,177.0 698.1,175.9 699.1,174.8" fill="none" stroke="#111" stroke-width="1.10" stroke-dasharray="1.3 0.9" stroke-linecap="butt"/>
<path d="M603.5 140.1 V150.1 M601.0 140.5 H606.0 M601.0 150.5 H606.0" stroke="#404040" stroke-width="1.00" fill="none"/>
<circle cx="603.5" cy="145.0" r="2.7" fill="#0a0a0a"/>
<path d="M628.5 76.9 V134.8 M626.0 77.5 H631.0 M626.0 135.5 H631.0" stroke="#404040" stroke-width="1.00" fill="none"/>
<circle cx="628.4" cy="105.9" r="2.7" fill="#0a0a0a"/>
<path d="M653.5 109.7 V131.2 M651.0 110.5 H656.0 M651.0 131.5 H656.0" stroke="#404040" stroke-width="1.00" fill="none"/>
<circle cx="653.4" cy="120.3" r="2.7" fill="#0a0a0a"/>
<path d="M678.5 146.5 V158.3 M676.0 147.5 H681.0 M676.0 158.5 H681.0" stroke="#404040" stroke-width="1.00" fill="none"/>
<circle cx="678.3" cy="152.4" r="2.7" fill="#0a0a0a"/>
<text x="641.0" y="29.2" font-size="11.20" text-anchor="middle" fill="#222" font-weight="normal" >CD11b<tspan dy="-3.7" font-size="6.7">+</tspan><tspan dy="3.7">Ly6C</tspan><tspan dy="-3.7" font-size="6.7">+</tspan></text>
<text x="683.5" y="50.5" font-size="9.00" text-anchor="middle" fill="#222" font-weight="bold" >*</text>
<rect x="775.0" y="41.5" width="50.4" height="154.1" fill="#AEABAC"/>
<path d="M724.7 42.1 V196.1 M720.2 195.6 H825.4" stroke="#3a3a3a" stroke-width="1.00" fill="none"/>
<text x="717.2" y="198.6" font-size="8.40" text-anchor="end" fill="#333" font-weight="normal" >0</text>
<text x="717.2" y="147.6" font-size="8.40" text-anchor="end" fill="#333" font-weight="normal" >1</text>
<text x="717.2" y="96.6" font-size="8.40" text-anchor="end" fill="#333" font-weight="normal" >2</text>
<text x="717.2" y="45.6" font-size="8.40" text-anchor="end" fill="#333" font-weight="normal" >3</text>
<text x="727.7" y="212.9" font-size="8.40" text-anchor="middle" fill="#222" font-weight="normal" >1</text>
<text x="752.6" y="212.9" font-size="8.40" text-anchor="middle" fill="#222" font-weight="normal" >7</text>
<text x="777.6" y="212.9" font-size="8.40" text-anchor="middle" fill="#222" font-weight="normal" >13</text>
<text x="802.5" y="212.9" font-size="8.40" text-anchor="middle" fill="#222" font-weight="normal" >19</text>
<path d="M720.2 195.6 H724.7 M720.2 144.6 H724.7 M720.2 93.6 H724.7 M720.2 42.6 H724.7 M728.9 195.6 V200.1 M753.8 195.6 V200.1 M778.8 195.6 V200.1 M803.7 195.6 V200.1 " stroke="#3a3a3a" stroke-width="1.00" fill="none"/>
<polyline points="724.7,151.5 725.7,152.6 726.8,153.5 727.8,154.3 728.9,155.0 729.9,155.4 730.9,155.8 732.0,155.9 733.0,156.0 734.1,155.8 735.1,155.5 736.1,155.1 737.2,154.5 738.2,153.7 739.3,152.8 740.3,151.7 741.3,150.5 742.4,149.2 743.4,147.8 744.5,146.2 745.5,144.5 746.5,142.7 747.6,140.8 748.6,138.8 749.7,136.7 750.7,134.5 751.7,132.3 752.8,130.0 753.8,127.7 754.9,125.3 755.9,123.0 756.9,120.5 758.0,118.1 759.0,115.7 760.1,113.3 761.1,111.0 762.1,108.6 763.2,106.3 764.2,104.1 765.3,101.9 766.3,99.8 767.3,97.8 768.4,95.9 769.4,94.1 770.5,92.4 771.5,90.8 772.5,89.3 773.6,87.9 774.6,86.7 775.7,85.6 776.7,84.7 777.7,83.9 778.8,83.2 779.8,82.8 780.9,82.4 781.9,82.3 782.9,82.2 784.0,82.4 785.0,82.7 786.1,83.1 787.1,83.7 788.1,84.5 789.2,85.4 790.2,86.5 791.3,87.7 792.3,89.0 793.3,90.4 794.4,92.0 795.4,93.7 796.5,95.5 797.5,97.4 798.5,99.4 799.6,101.5 800.6,103.7 801.7,105.9 802.7,108.2 803.7,110.5 804.8,112.9 805.8,115.2 806.9,117.7 807.9,120.1 808.9,122.5 810.0,124.9 811.0,127.2 812.1,129.6 813.1,131.9 814.1,134.1 815.2,136.3 816.2,138.4 817.3,140.4 818.3,142.3 819.3,144.1 820.4,145.8 821.4,147.4 822.5,148.9 823.5,150.3 824.5,151.5" fill="none" stroke="#111" stroke-width="1.10"/>
<polyline points="724.7,131.2 725.7,132.3 726.8,133.3 727.8,134.1 728.9,134.7 729.9,135.2 730.9,135.6 732.0,135.7 733.0,135.8 734.1,135.6 735.1,135.3 736.1,134.8 737.2,134.2 738.2,133.4 739.3,132.5 740.3,131.4 741.3,130.2 742.4,128.8 743.4,127.3 744.5,125.7 745.5,124.0 746.5,122.1 747.6,120.1 748.6,118.1 749.7,115.9 750.7,113.7 751.7,111.4 752.8,109.1 753.8,106.7 754.9,104.3 755.9,101.8 756.9,99.3 758.0,96.8 759.0,94.4 760.1,91.9 761.1,89.5 762.1,87.1 763.2,84.7 764.2,82.4 765.3,80.2 766.3,78.0 767.3,75.9 768.4,74.0 769.4,72.1 770.5,70.3 771.5,68.7 772.5,67.1 773.6,65.7 774.6,64.5 775.7,63.4 776.7,62.4 777.7,61.6 778.8,60.9 779.8,60.4 780.9,60.1 781.9,59.9 782.9,59.9 784.0,60.0 785.0,60.4 786.1,60.8 787.1,61.5 788.1,62.2 789.2,63.2 790.2,64.3 791.3,65.5 792.3,66.8 793.3,68.3 794.4,70.0 795.4,71.7 796.5,73.6 797.5,75.5 798.5,77.6 799.6,79.7 800.6,81.9 801.7,84.2 802.7,86.6 803.7,89.0 804.8,91.4 805.8,93.9 806.9,96.3 807.9,98.8 808.9,101.3 810.0,103.8 811.0,106.2 812.1,108.6 813.1,111.0 814.1,113.3 815.2,115.5 816.2,117.7 817.3,119.7 818.3,121.7 819.3,123.6 820.4,125.4 821.4,127.0 822.5,128.5 823.5,129.9 824.5,131.2" fill="none" stroke="#111" stroke-width="1.10" stroke-dasharray="1.3 0.9" stroke-linecap="butt"/>
<polyline points="724.7,172.3 725.7,173.4 726.8,174.3 727.8,175.1 728.9,175.7 729.9,176.2 730.9,176.5 732.0,176.7 733.0,176.7 734.1,176.6 735.1,176.3 736.1,175.8 737.2,175.2 738.2,174.5 739.3,173.6 740.3,172.6 741.3,171.4 742.4,170.1 743.4,168.7 744.5,167.1 745.5,165.4 746.5,163.7 747.6,161.8 748.6,159.8 749.7,157.8 750.7,155.7 751.7,153.5 752.8,151.3 753.8,149.0 754.9,146.7 755.9,144.3 756.9,141.9 758.0,139.6 759.0,137.2 760.1,134.9 761.1,132.5 762.1,130.2 763.2,128.0 764.2,125.8 765.3,123.7 766.3,121.6 767.3,119.6 768.4,117.7 769.4,115.9 770.5,114.3 771.5,112.7 772.5,111.2 773.6,109.9 774.6,108.7 775.7,107.6 776.7,106.7 777.7,105.9 778.8,105.3 779.8,104.8 780.9,104.5 781.9,104.3 782.9,104.3 784.0,104.5 785.0,104.8 786.1,105.2 787.1,105.8 788.1,106.5 789.2,107.4 790.2,108.5 791.3,109.6 792.3,110.9 793.3,112.4 794.4,113.9 795.4,115.6 796.5,117.4 797.5,119.2 798.5,121.2 799.6,123.2 800.6,125.4 801.7,127.5 802.7,129.8 803.7,132.1 804.8,134.4 805.8,136.7 806.9,139.1 807.9,141.5 808.9,143.8 810.0,146.2 811.0,148.5 812.1,150.8 813.1,153.1 814.1,155.2 815.2,157.4 816.2,159.4 817.3,161.4 818.3,163.3 819.3,165.1 820.4,166.8 821.4,168.4 822.5,169.8 823.5,171.1 824.5,172.3" fill="none" stroke="#111" stroke-width="1.10" stroke-dasharray="1.3 0.9" stroke-linecap="butt"/>
<path d="M728.5 139.2 V149.7 M726.0 139.5 H731.0 M726.0 150.5 H731.0" stroke="#404040" stroke-width="1.00" fill="none"/>
<circle cx="728.9" cy="144.6" r="2.7" fill="#0a0a0a"/>
<path d="M753.5 132.2 V153.5 M751.0 132.5 H756.0 M751.0 154.5 H756.0" stroke="#404040" stroke-width="1.00" fill="none"/>
<circle cx="753.8" cy="143.1" r="2.7" fill="#0a0a0a"/>
<path d="M778.5 51.9 V87.0 M776.0 52.5 H781.0 M776.0 87.5 H781.0" stroke="#404040" stroke-width="1.00" fill="none"/>
<circle cx="778.8" cy="69.8" r="2.7" fill="#0a0a0a"/>
<path d="M803.5 108.1 V136.4 M801.0 108.5 H806.0 M801.0 136.5 H806.0" stroke="#404040" stroke-width="1.00" fill="none"/>
<circle cx="803.7" cy="122.7" r="2.7" fill="#0a0a0a"/>
<text x="770.5" y="29.2" font-size="11.20" text-anchor="middle" fill="#222" font-weight="normal" >CD11c<tspan dy="-3.7" font-size="6.7">+</tspan><tspan dy="3.7">MHCII</tspan><tspan dy="-3.7" font-size="6.7">+</tspan></text>
<text x="812.6" y="50.8" font-size="9.00" text-anchor="middle" fill="#222" font-weight="bold" >***</text>
<text x="27.0" y="227.5" font-size="15.00" text-anchor="start" fill="#111" font-weight="bold" >B</text>
<text transform="translate(21.4,286.3) rotate(-90)" font-size="11.00" text-anchor="middle" fill="#222">ZT1</text>
<text transform="translate(21.4,369.5) rotate(-90)" font-size="11.00" text-anchor="middle" fill="#222">ZT13</text>
<defs>
<g id="ns1"><g filter="url(#blur1)">
<path d="M0 0 L40 0 L30 14 L0 22Z" fill="#1c3a9c" opacity="0.8"/>
<path d="M0 22 L10 20 L40 40 L58 56 L50 64 L28 54 L0 40Z" fill="#2450c4" opacity="0.95"/>
<path d="M0 64 L15 66 L42 76 L62 92 L100 80 L100 103 L50 103 L34 88 L0 74Z" fill="#214abc" opacity="0.9"/>
<path d="M62 0 H100 V34 L60 24Z" fill="#15164e" opacity="0.8"/>
<path d="M-12 76 L20 82 L36 92 L52 125 L-12 125Z" fill="#000" opacity="1"/>
<path d="M38 34 L100 36 L100 62 L70 66 L48 58Z" fill="#000" opacity="0.6"/>
<ellipse cx="62" cy="44" rx="10" ry="6" fill="#000" opacity="0.9"/><ellipse cx="82" cy="52" rx="9" ry="7" fill="#000" opacity="0.85"/>
<ellipse cx="28" cy="62" rx="13" ry="5" fill="#000" opacity="0.85"/><ellipse cx="55" cy="68" rx="9" ry="5" fill="#000" opacity="0.75"/>
<ellipse cx="72" cy="30" rx="8" ry="5" fill="#000" opacity="0.6"/><ellipse cx="90" cy="66" rx="6" ry="7" fill="#000" opacity="0.7"/>
</g></g>
<g id="n1"><rect width="100" height="102.5" fill="#191c68"/><use href="#ns1"/><rect width="100" height="102.5" filter="url(#speck)"/><use href="#ns1" opacity="0.3"/></g>
<g id="g1"><circle cx="32.0" cy="25.7" r="0.79"/><circle cx="33.3" cy="28.3" r="0.69"/><circle cx="34.6" cy="30.4" r="0.99"/><circle cx="31.5" cy="27.8" r="0.64"/><circle cx="71.1" cy="27.8" r="0.92"/><circle cx="72.4" cy="26.2" r="0.82"/><circle cx="39.8" cy="40.0" r="0.63"/><circle cx="46.3" cy="42.6" r="0.90"/><circle cx="55.5" cy="41.3" r="0.62"/><circle cx="60.7" cy="47.9" r="0.86"/><circle cx="63.3" cy="49.2" r="0.64"/><circle cx="65.9" cy="50.5" r="0.65"/><circle cx="69.8" cy="49.2" r="0.85"/><circle cx="58.1" cy="57.0" r="1.10"/><circle cx="60.7" cy="58.3" r="0.67"/><circle cx="63.3" cy="58.3" r="0.73"/><circle cx="68.5" cy="55.7" r="0.98"/><circle cx="80.3" cy="53.1" r="1.17"/><circle cx="77.7" cy="52.3" r="0.95"/><circle cx="92.0" cy="62.2" r="0.84"/><circle cx="21.6" cy="62.7" r="1.19"/><circle cx="20.2" cy="64.3" r="0.63"/><circle cx="73.7" cy="66.1" r="1.12"/><circle cx="89.4" cy="8.7" r="0.77"/><circle cx="94.6" cy="11.3" r="0.69"/><circle cx="11.1" cy="0.9" r="0.67"/><circle cx="18.9" cy="28.3" r="0.79"/><circle cx="41.1" cy="33.5" r="1.09"/><circle cx="50.3" cy="46.6" r="0.71"/><circle cx="75.0" cy="68.7" r="0.95"/><circle cx="29.4" cy="72.7" r="0.98"/><circle cx="52.9" cy="85.7" r="0.82"/><circle cx="65.9" cy="89.6" r="0.93"/><circle cx="89.4" cy="97.4" r="0.64"/><circle cx="42.4" cy="54.4" r="0.64"/></g>
<g id="w1"><circle cx="10.8" cy="3.5" r="0.81"/><circle cx="17.3" cy="6.9" r="1.07"/><circle cx="19.9" cy="7.4" r="0.94"/><circle cx="29.1" cy="4.3" r="0.87"/><circle cx="9.5" cy="15.8" r="1.02"/><circle cx="27.8" cy="17.3" r="0.95"/><circle cx="30.4" cy="13.9" r="0.86"/><circle cx="36.9" cy="19.2" r="1.14"/><circle cx="40.3" cy="25.7" r="1.08"/><circle cx="53.3" cy="30.4" r="1.80"/><circle cx="55.2" cy="32.2" r="1.02"/><circle cx="57.8" cy="33.0" r="0.99"/><circle cx="70.8" cy="37.4" r="1.18"/><circle cx="83.9" cy="36.1" r="1.10"/><circle cx="80.0" cy="41.3" r="0.86"/><circle cx="93.0" cy="45.3" r="1.24"/><circle cx="96.9" cy="37.4" r="0.76"/><circle cx="90.4" cy="58.3" r="0.93"/><circle cx="99.5" cy="57.0" r="1.12"/><circle cx="98.2" cy="62.2" r="0.78"/><circle cx="4.3" cy="45.3" r="0.97"/><circle cx="38.2" cy="66.1" r="0.72"/><circle cx="77.3" cy="20.5" r="1.07"/><circle cx="39.5" cy="85.7" r="1.12"/><circle cx="56.5" cy="90.9" r="1.02"/><circle cx="82.6" cy="57.0" r="1.18"/></g>
<g id="r1" fill="none" stroke="currentColor" stroke-linecap="round" stroke-linejoin="round"><path d="M2.1 7.4 L12.6 13.9 L23.0 23.1 L33.4 30.9 L41.3 37.4 L40.0 42.6" stroke-width="4.2"/><path d="M28.2 0.9 L37.3 6.1 L43.9 10.0" stroke-width="2.6"/><path d="M43.9 30.9 L51.7 33.5" stroke-width="2.0"/><path d="M49.1 10.0 L54.3 19.2" stroke-width="2.0"/><path d="M67.4 19.2 L75.2 25.7 L81.7 28.3" stroke-width="2.2"/><path d="M85.6 10.0 L93.4 7.4" stroke-width="1.8"/><path d="M80.4 34.8 L88.2 41.3" stroke-width="2.0"/><path d="M62.1 53.1 L70.0 57.0" stroke-width="3.4"/><path d="M54.3 62.2 L64.7 59.6" stroke-width="2.0"/><path d="M12.6 55.7 L14.6 58.3" stroke-width="3.0"/><path d="M16.5 38.7 L17.8 42.6" stroke-width="2.0"/><path d="M83.0 64.8 L93.4 62.2" stroke-width="2.0"/><path d="M85.6 77.9 L88.2 81.8" stroke-width="2.0"/><path d="M94.7 77.9 L96.1 84.4" stroke-width="2.0"/><path d="M58.2 88.3 L59.0 93.5" stroke-width="2.0"/><path d="M79.1 83.1 L83.0 84.4" stroke-width="1.8"/><path d="M96.1 94.8 L96.6 98.7" stroke-width="1.8"/><path d="M4.7 2.2 L10.0 6.1" stroke-width="1.8"/><path d="M70.0 33.5 L73.9 37.4" stroke-width="1.6"/><path d="M33.4 17.9 L38.7 20.5" stroke-width="1.6"/><path d="M59.5 25.7 L64.7 29.6" stroke-width="1.6"/><path d="M90.8 20.5 L96.1 25.7" stroke-width="1.6"/><path d="M23.0 46.6 L25.6 50.5" stroke-width="1.5"/></g>
<g id="rs1" fill="currentColor"><circle cx="45.0" cy="75.5" r="0.48"/><circle cx="35.8" cy="26.7" r="0.55"/><circle cx="86.6" cy="30.3" r="0.50"/><circle cx="96.1" cy="54.5" r="0.49"/><circle cx="54.7" cy="64.1" r="0.50"/><circle cx="87.5" cy="43.9" r="0.35"/><circle cx="66.5" cy="45.8" r="0.53"/><circle cx="73.0" cy="53.7" r="0.42"/><circle cx="67.1" cy="32.6" r="0.43"/><circle cx="10.7" cy="24.2" r="0.55"/><circle cx="73.3" cy="24.8" r="0.42"/><circle cx="27.2" cy="80.3" r="0.59"/><circle cx="69.1" cy="52.6" r="0.37"/><circle cx="63.0" cy="68.6" r="0.48"/><circle cx="59.8" cy="42.3" r="0.43"/><circle cx="38.0" cy="63.7" r="0.59"/><circle cx="49.0" cy="12.0" r="0.49"/><circle cx="56.3" cy="32.6" r="0.57"/><circle cx="67.4" cy="16.2" r="0.42"/><circle cx="88.2" cy="61.5" r="0.32"/><circle cx="75.6" cy="47.0" r="0.35"/><circle cx="55.6" cy="46.9" r="0.30"/><circle cx="66.7" cy="49.4" r="0.41"/><circle cx="49.3" cy="30.7" r="0.38"/><circle cx="46.3" cy="59.5" r="0.34"/><circle cx="31.9" cy="46.1" r="0.33"/><circle cx="78.3" cy="53.7" r="0.38"/><circle cx="67.1" cy="26.9" r="0.31"/><circle cx="89.2" cy="30.7" r="0.34"/><circle cx="54.4" cy="38.4" r="0.46"/><circle cx="53.5" cy="21.7" r="0.41"/><circle cx="81.4" cy="77.3" r="0.46"/><circle cx="64.1" cy="18.0" r="0.37"/><circle cx="87.2" cy="3.8" r="0.55"/></g>
</defs>
<defs>
<g id="ns2"><g filter="url(#blur1)">
<path d="M0 34 L20 38 L38 50 L70 58 L100 58 L100 72 L70 72 L45 70 L20 70 L0 70Z" fill="#2450c4" opacity="0.95"/>
<path d="M0 18 L22 28 L30 45 L0 45Z" fill="#1e42ac" opacity="0.7"/>
<path d="M45 78 L100 72 L100 103 L65 103Z" fill="#1a3494" opacity="0.5"/>
<path d="M30 0 H100 V44 L70 34 L45 22Z" fill="#000" opacity="0.5"/>
<path d="M0 76 L40 80 L55 103 L0 103Z" fill="#000" opacity="0.45"/>
<ellipse cx="12" cy="64" rx="9" ry="5" fill="#000" opacity="0.9"/>
<ellipse cx="30" cy="26" rx="8" ry="6" fill="#000" opacity="0.7"/><ellipse cx="85" cy="28" rx="10" ry="8" fill="#000" opacity="0.5"/>
</g></g>
<g id="n2"><rect width="100" height="102.5" fill="#191c68"/><use href="#ns2"/><rect width="100" height="102.5" filter="url(#speck2)"/><use href="#ns2" opacity="0.3"/></g>
<g id="g2"><circle cx="13.6" cy="47.7" r="0.96"/><circle cx="12.8" cy="53.1" r="0.62"/><circle cx="12.9" cy="56.6" r="1.08"/><circle cx="22.4" cy="50.2" r="1.26"/><circle cx="33.9" cy="50.9" r="0.86"/><circle cx="15.1" cy="56.2" r="0.74"/><circle cx="17.2" cy="60.1" r="1.23"/><circle cx="18.9" cy="46.2" r="1.06"/><circle cx="15.0" cy="49.6" r="1.06"/><circle cx="25.8" cy="46.4" r="1.13"/><circle cx="9.0" cy="52.5" r="1.15"/><circle cx="6.9" cy="61.4" r="1.28"/><circle cx="7.6" cy="55.7" r="1.26"/><circle cx="13.2" cy="48.4" r="0.69"/><circle cx="24.1" cy="62.6" r="1.16"/><circle cx="23.1" cy="60.9" r="1.29"/><circle cx="9.9" cy="47.3" r="0.98"/><circle cx="14.9" cy="52.7" r="1.28"/><circle cx="8.2" cy="46.1" r="1.25"/><circle cx="16.5" cy="48.3" r="0.78"/><circle cx="12.4" cy="56.3" r="1.01"/><circle cx="13.5" cy="58.2" r="0.69"/><circle cx="20.3" cy="49.0" r="0.92"/><circle cx="4.1" cy="51.9" r="0.97"/><circle cx="22.6" cy="52.8" r="0.73"/><circle cx="28.3" cy="52.3" r="0.72"/><circle cx="1.3" cy="53.6" r="0.99"/><circle cx="9.6" cy="58.4" r="0.99"/><circle cx="14.8" cy="49.2" r="0.99"/><circle cx="14.1" cy="56.8" r="1.14"/><circle cx="3.7" cy="51.6" r="1.13"/><circle cx="38.5" cy="54.2" r="0.97"/><circle cx="25.8" cy="56.8" r="1.02"/><circle cx="25.9" cy="58.8" r="0.89"/><circle cx="41.7" cy="54.2" r="1.13"/><circle cx="37.3" cy="55.6" r="0.94"/><circle cx="43.8" cy="53.7" r="0.68"/><circle cx="37.7" cy="60.7" r="0.64"/><circle cx="33.1" cy="58.9" r="1.00"/><circle cx="35.7" cy="46.6" r="0.69"/><circle cx="31.1" cy="49.8" r="0.69"/><circle cx="44.6" cy="48.2" r="0.73"/><circle cx="38.8" cy="55.5" r="0.89"/><circle cx="66.3" cy="53.5" r="0.70"/><circle cx="48.4" cy="56.0" r="0.80"/><circle cx="56.8" cy="57.3" r="1.03"/><circle cx="62.6" cy="54.6" r="0.86"/><circle cx="60.4" cy="54.4" r="0.97"/><circle cx="52.8" cy="53.9" r="1.19"/><circle cx="58.8" cy="43.6" r="0.66"/><circle cx="54.8" cy="55.1" r="1.07"/><circle cx="54.6" cy="56.1" r="0.85"/><circle cx="64.4" cy="50.1" r="0.76"/><circle cx="91.0" cy="63.0" r="1.06"/><circle cx="82.2" cy="51.9" r="0.65"/><circle cx="80.6" cy="49.1" r="0.66"/><circle cx="90.9" cy="51.3" r="1.24"/><circle cx="93.2" cy="58.9" r="0.65"/><circle cx="87.3" cy="49.8" r="0.87"/><circle cx="70.0" cy="50.3" r="0.81"/><circle cx="88.1" cy="58.4" r="0.79"/><circle cx="85.8" cy="55.9" r="0.64"/><circle cx="84.5" cy="58.1" r="0.84"/><circle cx="83.3" cy="49.9" r="1.00"/><circle cx="85.4" cy="58.2" r="0.61"/><circle cx="83.0" cy="54.9" r="1.19"/><circle cx="79.3" cy="53.0" r="0.98"/><circle cx="85.6" cy="53.1" r="1.26"/><circle cx="76.6" cy="56.4" r="1.27"/><circle cx="77.4" cy="57.7" r="1.15"/><circle cx="88.5" cy="53.5" r="1.27"/><circle cx="88.1" cy="67.0" r="0.88"/><circle cx="89.0" cy="80.2" r="0.69"/><circle cx="97.4" cy="83.7" r="0.78"/><circle cx="91.1" cy="80.9" r="1.19"/><circle cx="95.1" cy="69.3" r="0.80"/><circle cx="90.2" cy="84.7" r="0.92"/><circle cx="93.0" cy="85.3" r="0.78"/><circle cx="86.4" cy="76.3" r="1.28"/><circle cx="88.3" cy="85.0" r="0.60"/><circle cx="85.8" cy="84.1" r="0.95"/><circle cx="91.8" cy="87.0" r="0.60"/><circle cx="89.8" cy="81.5" r="0.88"/><circle cx="91.0" cy="78.4" r="0.81"/><circle cx="90.7" cy="88.6" r="0.97"/><circle cx="90.0" cy="66.3" r="1.10"/><circle cx="71.6" cy="22.9" r="0.53"/><circle cx="67.0" cy="38.6" r="0.69"/><circle cx="44.4" cy="34.1" r="0.73"/><circle cx="82.8" cy="17.9" r="0.69"/><circle cx="56.3" cy="27.3" r="0.61"/><circle cx="31.1" cy="4.9" r="0.49"/><circle cx="65.7" cy="42.6" r="0.54"/><circle cx="95.1" cy="69.1" r="0.62"/><circle cx="20.8" cy="14.8" r="0.67"/><circle cx="47.6" cy="40.1" r="0.72"/><circle cx="49.6" cy="10.4" r="0.61"/><circle cx="44.0" cy="32.2" r="0.69"/><circle cx="49.8" cy="49.8" r="0.51"/><circle cx="47.4" cy="23.2" r="0.70"/><circle cx="84.6" cy="35.6" r="0.55"/><circle cx="4.9" cy="45.0" r="0.71"/><circle cx="18.1" cy="15.9" r="0.43"/><circle cx="63.8" cy="55.3" r="0.70"/><circle cx="37.0" cy="70.5" r="0.40"/><circle cx="72.0" cy="47.4" r="0.67"/><circle cx="34.0" cy="4.9" r="0.52"/><circle cx="16.6" cy="37.1" r="0.59"/><circle cx="96.7" cy="75.9" r="0.48"/><circle cx="83.1" cy="43.0" r="0.73"/><circle cx="18.4" cy="69.1" r="0.73"/><circle cx="15.6" cy="79.3" r="0.71"/><circle cx="9.1" cy="68.9" r="0.86"/><circle cx="15.1" cy="69.4" r="1.01"/><circle cx="10.7" cy="67.2" r="1.05"/></g>
<g id="w2"><circle cx="34.3" cy="6.8" r="0.97"/><circle cx="85.7" cy="4.2" r="0.71"/><circle cx="21.3" cy="19.0" r="0.70"/><circle cx="16.0" cy="24.3" r="0.97"/><circle cx="57.8" cy="17.7" r="0.95"/><circle cx="56.5" cy="24.3" r="0.87"/><circle cx="60.4" cy="29.5" r="0.78"/><circle cx="64.3" cy="33.4" r="0.89"/><circle cx="83.9" cy="30.3" r="0.87"/><circle cx="6.9" cy="39.9" r="1.16"/><circle cx="12.1" cy="43.8" r="0.70"/><circle cx="18.6" cy="39.9" r="1.11"/><circle cx="26.5" cy="42.5" r="1.16"/><circle cx="42.1" cy="40.7" r="0.77"/><circle cx="53.9" cy="43.3" r="1.21"/><circle cx="55.2" cy="45.9" r="1.09"/><circle cx="60.4" cy="43.3" r="1.20"/><circle cx="57.8" cy="48.5" r="0.86"/><circle cx="33.0" cy="47.7" r="0.90"/><circle cx="16.0" cy="49.0" r="0.92"/><circle cx="23.9" cy="49.8" r="1.90"/><circle cx="5.6" cy="53.0" r="1.02"/><circle cx="8.2" cy="55.6" r="0.90"/><circle cx="12.1" cy="56.9" r="0.94"/><circle cx="33.0" cy="56.9" r="0.85"/><circle cx="23.9" cy="62.1" r="0.73"/><circle cx="18.6" cy="66.0" r="0.76"/><circle cx="13.4" cy="68.6" r="1.16"/><circle cx="33.0" cy="67.3" r="0.86"/><circle cx="51.3" cy="54.8" r="1.21"/><circle cx="56.5" cy="56.9" r="0.84"/><circle cx="72.1" cy="53.0" r="0.85"/><circle cx="77.3" cy="54.8" r="0.98"/><circle cx="80.0" cy="50.3" r="0.80"/><circle cx="90.4" cy="53.0" r="0.91"/><circle cx="66.9" cy="63.4" r="1.23"/><circle cx="72.1" cy="64.2" r="1.19"/><circle cx="91.7" cy="64.7" r="2.20"/><circle cx="94.3" cy="68.6" r="1.05"/><circle cx="96.9" cy="69.9" r="1.20"/><circle cx="98.2" cy="59.5" r="1.22"/><circle cx="74.7" cy="79.0" r="1.00"/><circle cx="77.3" cy="80.4" r="1.80"/><circle cx="86.5" cy="77.7" r="0.73"/><circle cx="65.6" cy="86.9" r="1.10"/><circle cx="99.5" cy="37.3" r="0.95"/><circle cx="92.5" cy="66.8" r="1.11"/><circle cx="90.9" cy="63.4" r="1.05"/></g>
<g id="r2" fill="none" stroke="currentColor" stroke-linecap="round" stroke-linejoin="round"><path d="M0.8 69.9 L10.0 64.7 L20.4 59.5 L29.5 55.6 L38.7 53.0 L46.5 50.3 L56.9 54.3 L67.4 56.9 L77.8 55.6 L84.3 53.0" stroke-width="3.8"/><path d="M2.1 20.3 L10.0 21.6 L12.6 30.8 L10.0 33.4" stroke-width="3.6"/><path d="M33.4 11.2 L29.5 20.3 L24.3 28.2" stroke-width="1.8"/><path d="M51.7 19.0 L43.9 28.2 L38.7 39.9 L36.0 46.4" stroke-width="2.0"/><path d="M76.5 8.6 L70.0 15.1 L70.0 22.9 L75.2 26.9 L81.7 25.6" stroke-width="1.8"/><path d="M64.7 62.1 L63.4 68.6" stroke-width="1.8"/><path d="M59.5 77.7 L70.0 75.1" stroke-width="1.8"/><path d="M17.8 71.2 L23.0 72.5" stroke-width="2.0"/><path d="M2.1 84.3 L8.6 81.7" stroke-width="2.0"/><path d="M21.7 84.3 L22.5 89.5" stroke-width="1.8"/><path d="M29.5 98.6 L38.7 100.7" stroke-width="1.8"/><path d="M83.0 88.2 L93.4 80.4 L98.7 72.5" stroke-width="1.5"/><path d="M59.5 37.3 L62.1 39.9" stroke-width="1.8"/><path d="M85.6 34.7 L89.5 33.4" stroke-width="1.6"/><path d="M23.0 47.7 L24.3 50.3" stroke-width="1.8"/><path d="M46.5 64.7 L50.4 65.2" stroke-width="1.6"/><path d="M15.2 7.3 L17.8 12.5" stroke-width="1.4"/><path d="M54.3 4.7 L58.2 7.3" stroke-width="1.4"/><path d="M90.8 46.4 L96.1 43.8" stroke-width="1.4"/><path d="M10.0 46.4 L15.2 50.3" stroke-width="1.6"/><path d="M41.3 80.4 L43.9 84.3" stroke-width="1.4"/><path d="M75.2 64.7 L79.1 67.3" stroke-width="1.4"/></g>
<g id="rs2" fill="currentColor"><circle cx="48.0" cy="58.6" r="0.58"/><circle cx="72.1" cy="72.7" r="0.40"/><circle cx="36.4" cy="93.8" r="0.59"/><circle cx="47.4" cy="90.8" r="0.39"/><circle cx="23.8" cy="40.1" r="0.35"/><circle cx="60.1" cy="66.2" r="0.57"/><circle cx="30.3" cy="50.4" r="0.57"/><circle cx="80.6" cy="49.3" r="0.34"/><circle cx="54.3" cy="61.4" r="0.40"/><circle cx="67.4" cy="61.2" r="0.38"/><circle cx="49.9" cy="21.1" r="0.42"/><circle cx="23.1" cy="45.9" r="0.40"/><circle cx="70.9" cy="58.6" r="0.59"/><circle cx="73.3" cy="73.6" r="0.49"/><circle cx="62.7" cy="35.2" r="0.38"/><circle cx="50.3" cy="78.3" r="0.43"/><circle cx="54.1" cy="45.8" r="0.31"/><circle cx="13.3" cy="56.2" r="0.30"/><circle cx="75.2" cy="1.0" r="0.59"/><circle cx="50.1" cy="63.5" r="0.35"/><circle cx="8.0" cy="44.1" r="0.58"/><circle cx="42.9" cy="10.2" r="0.53"/><circle cx="15.8" cy="59.4" r="0.31"/><circle cx="54.1" cy="30.0" r="0.58"/><circle cx="35.5" cy="31.1" r="0.34"/><circle cx="49.6" cy="89.8" r="0.51"/><circle cx="58.1" cy="56.9" r="0.46"/><circle cx="25.9" cy="36.2" r="0.37"/><circle cx="46.7" cy="47.6" r="0.39"/><circle cx="14.3" cy="4.2" r="0.44"/><circle cx="52.0" cy="71.0" r="0.59"/><circle cx="43.3" cy="27.0" r="0.31"/><circle cx="8.1" cy="50.4" r="0.43"/><circle cx="48.1" cy="91.5" r="0.58"/><circle cx="51.1" cy="57.3" r="0.40"/><circle cx="12.8" cy="70.3" r="0.36"/><circle cx="63.4" cy="6.1" r="0.45"/><circle cx="30.4" cy="98.0" r="0.37"/><circle cx="58.4" cy="96.6" r="0.39"/><circle cx="81.3" cy="40.3" r="0.36"/><circle cx="54.9" cy="78.7" r="0.50"/><circle cx="64.9" cy="45.0" r="0.42"/><circle cx="55.7" cy="57.1" r="0.32"/><circle cx="3.1" cy="87.2" r="0.57"/><circle cx="72.7" cy="39.6" r="0.36"/><circle cx="92.7" cy="31.8" r="0.31"/><circle cx="36.0" cy="26.5" r="0.41"/><circle cx="41.6" cy="64.9" r="0.30"/><circle cx="45.1" cy="75.6" r="0.59"/><circle cx="57.0" cy="75.4" r="0.55"/><circle cx="63.0" cy="23.2" r="0.31"/></g>
</defs>
<svg x="27.5" y="244.3" width="76.5" height="77.3" viewBox="0 0 100 101.05" preserveAspectRatio="none">
<use href="#n1"/>
</svg>
<text x="28.5" y="319.7" font-size="10.70" text-anchor="start" fill="#22a2dc" font-weight="normal" textLength="41.5" lengthAdjust="spacingAndGlyphs">Nucleus</text>
<svg x="109.3" y="244.3" width="76.5" height="77.3" viewBox="0 0 100 101.05" preserveAspectRatio="none">
<rect width="100" height="103" fill="#030303"/>
<g filter="url(#blur2)" fill="#33b83c" opacity="0.9"><use href="#g1"/></g>
</svg>
<text x="110.3" y="319.7" font-size="10.70" text-anchor="start" fill="#2c9a4a" font-weight="normal" textLength="22.8" lengthAdjust="spacingAndGlyphs">CD4</text>
<svg x="190.7" y="244.3" width="76.5" height="77.3" viewBox="0 0 100 101.05" preserveAspectRatio="none">
<rect width="100" height="103" fill="#030303"/>
<g filter="url(#blur2)" fill="#f4f4f4"><use href="#w1"/></g>
</svg>
<text x="191.7" y="319.7" font-size="10.70" text-anchor="start" fill="#f2f2f2" font-weight="normal" textLength="22.8" lengthAdjust="spacingAndGlyphs">CD8</text>
<svg x="272.2" y="244.3" width="76.5" height="77.3" viewBox="0 0 100 101.05" preserveAspectRatio="none">
<rect width="100" height="103" fill="#030303"/>
<g filter="url(#rag)" color="#ee2226"><use href="#r1"/><use href="#rs1"/></g>
</svg>
<text x="273.2" y="319.7" font-size="10.70" text-anchor="start" fill="#e0242a" font-weight="normal" textLength="29.0" lengthAdjust="spacingAndGlyphs">CD31</text>
<svg x="354.0" y="244.3" width="76.5" height="77.3" viewBox="0 0 100 101.05" preserveAspectRatio="none">
<rect width="100" height="103" fill="#030303"/>
<use href="#n1"/>
<g filter="url(#rag)" color="#e8185c"><use href="#r1"/><use href="#rs1"/></g>
<g filter="url(#blur2)" fill="#25c88c" opacity="0.8"><use href="#g1"/></g>
<g filter="url(#blur2)" fill="#ffffff"><use href="#w1"/></g>
</svg>
<text x="355.0" y="319.7" font-size="10.70" text-anchor="start" fill="#ffffff" font-weight="normal" textLength="32.0" lengthAdjust="spacingAndGlyphs">Merge</text>
<svg x="27.5" y="328.4" width="76.5" height="78.3" viewBox="0 0 100 102.35" preserveAspectRatio="none">
<use href="#n2"/>
</svg>
<svg x="109.3" y="328.4" width="76.5" height="78.3" viewBox="0 0 100 102.35" preserveAspectRatio="none">
<rect width="100" height="103" fill="#030303"/>
<g filter="url(#blur2)" fill="#33b83c" opacity="0.9"><use href="#g2"/></g>
</svg>
<svg x="190.7" y="328.4" width="76.5" height="78.3" viewBox="0 0 100 102.35" preserveAspectRatio="none">
<rect width="100" height="103" fill="#030303"/>
<g filter="url(#blur2)" fill="#f4f4f4"><use href="#w2"/></g>
</svg>
<svg x="272.2" y="328.4" width="76.5" height="78.3" viewBox="0 0 100 102.35" preserveAspectRatio="none">
<rect width="100" height="103" fill="#030303"/>
<g filter="url(#rag)" color="#ee2226"><use href="#r2"/><use href="#rs2"/></g>
</svg>
<svg x="354.0" y="328.4" width="76.5" height="78.3" viewBox="0 0 100 102.35" preserveAspectRatio="none">
<rect width="100" height="103" fill="#030303"/>
<use href="#n2"/>
<g filter="url(#rag)" color="#e8185c"><use href="#r2"/><use href="#rs2"/></g>
<g filter="url(#blur2)" fill="#25c88c" opacity="0.8"><use href="#g2"/></g>
<g filter="url(#blur2)" fill="#ffffff"><use href="#w2"/></g>
</svg>
<rect x="404" y="403.9" width="26.3" height="2.5" fill="#fff"/>
<rect x="484.5" y="249.7" width="24.3" height="158.0" fill="#AEABAC"/>
<rect x="469.1" y="372.0" width="12.5" height="35.7" fill="#F28C8E" stroke="#2a2a2a" stroke-width="0.9"/>
<rect x="488.6" y="315.6" width="12.7" height="92.1" fill="#B3B4E2" stroke="#2a2a2a" stroke-width="0.9"/>
<text transform="translate(456.7,411.3) scale(0.830,1)" font-size="10.00" text-anchor="end" fill="#222" font-weight="normal" >0</text>
<text transform="translate(456.7,358.8) scale(0.830,1)" font-size="10.00" text-anchor="end" fill="#222" font-weight="normal" >20</text>
<text transform="translate(456.7,306.4) scale(0.830,1)" font-size="10.00" text-anchor="end" fill="#222" font-weight="normal" >40</text>
<text transform="translate(456.7,253.9) scale(0.830,1)" font-size="10.00" text-anchor="end" fill="#222" font-weight="normal" >60</text>
<text transform="translate(475.4,422.4) scale(0.800,1)" font-size="9.60" text-anchor="middle" fill="#222" font-weight="normal" >1</text>
<text transform="translate(495.0,422.4) scale(0.800,1)" font-size="9.60" text-anchor="middle" fill="#222" font-weight="normal" >13</text>
<path d="M461.9 249.8 V408.2 M457.9 407.7 H508.8 M457.9 407.7 H461.9 M457.9 355.2 H461.9 M457.9 302.8 H461.9 M457.9 250.3 H461.9 M475.4 407.7 V411.7 M495.0 407.7 V411.7 " stroke="#3a3a3a" stroke-width="1.15" fill="none"/>
<text transform="translate(456.6,422.4) scale(0.780,1)" font-size="9.40" text-anchor="start" fill="#222" font-weight="normal" >ZT</text>
<path d="M475.4 363.4 V380.2 M472.8 363.4 H478.0 M472.8 380.2 H478.0" stroke="#222" stroke-width="0.9" fill="none"/>
<path d="M495.0 299.6 V331.6 M492.4 299.6 H497.6 M492.4 331.6 H497.6" stroke="#222" stroke-width="0.9" fill="none"/>
<circle cx="475.2" cy="355.2" r="2.2" fill="#fff" stroke="#2a2a2a" stroke-width="0.9"/>
<circle cx="475.2" cy="377.8" r="2.2" fill="#fff" stroke="#2a2a2a" stroke-width="0.9"/>
<circle cx="475.2" cy="382.8" r="2.2" fill="#fff" stroke="#2a2a2a" stroke-width="0.9"/>
<circle cx="495.2" cy="284.4" r="2.2" fill="#fff" stroke="#2a2a2a" stroke-width="0.9"/>
<circle cx="495.2" cy="326.4" r="2.2" fill="#fff" stroke="#2a2a2a" stroke-width="0.9"/>
<circle cx="495.2" cy="333.7" r="2.2" fill="#fff" stroke="#2a2a2a" stroke-width="0.9"/>
<path d="M474.9 262.5 V258.1 H495.2 V262.5" stroke="#222" stroke-width="0.9" fill="none"/>
<text x="484.5" y="255.0" font-size="10.50" text-anchor="middle" fill="#222" font-weight="bold" >*</text>
<text transform="translate(444.5,331.2) rotate(-90)" font-size="11.30" text-anchor="middle" fill="#222">CD8<tspan dy="-3.4" font-size="6.8">+</tspan><tspan dy="3.4"> cells/mm</tspan><tspan dy="-3.4" font-size="6.8">2</tspan></text>
<rect x="560.4" y="248.8" width="23.8" height="158.9" fill="#AEABAC"/>
<rect x="545.1" y="360.4" width="12.4" height="47.3" fill="#F28C8E" stroke="#2a2a2a" stroke-width="0.9"/>
<rect x="564.8" y="274.3" width="12.4" height="133.4" fill="#B3B4E2" stroke="#2a2a2a" stroke-width="0.9"/>
<text transform="translate(533.5,411.3) scale(0.830,1)" font-size="10.00" text-anchor="end" fill="#222" font-weight="normal" >0</text>
<text transform="translate(533.5,359.3) scale(0.830,1)" font-size="10.00" text-anchor="end" fill="#222" font-weight="normal" >20</text>
<text transform="translate(533.5,307.3) scale(0.830,1)" font-size="10.00" text-anchor="end" fill="#222" font-weight="normal" >40</text>
<text transform="translate(533.5,255.3) scale(0.830,1)" font-size="10.00" text-anchor="end" fill="#222" font-weight="normal" >60</text>
<text transform="translate(551.3,422.4) scale(0.800,1)" font-size="9.60" text-anchor="middle" fill="#222" font-weight="normal" >1</text>
<text transform="translate(571.0,422.4) scale(0.800,1)" font-size="9.60" text-anchor="middle" fill="#222" font-weight="normal" >13</text>
<path d="M538.7 251.2 V408.2 M534.7 407.7 H584.2 M534.7 407.7 H538.7 M534.7 355.7 H538.7 M534.7 303.7 H538.7 M534.7 251.7 H538.7 M551.3 407.7 V411.7 M571.0 407.7 V411.7 " stroke="#3a3a3a" stroke-width="1.15" fill="none"/>
<text transform="translate(532.8,422.4) scale(0.780,1)" font-size="9.40" text-anchor="start" fill="#222" font-weight="normal" >ZT</text>
<path d="M551.3 350.2 V371.3 M548.7 350.2 H553.9 M548.7 371.3 H553.9" stroke="#222" stroke-width="0.9" fill="none"/>
<path d="M571.0 262.6 V286.5 M568.4 262.6 H573.6 M568.4 286.5 H573.6" stroke="#222" stroke-width="0.9" fill="none"/>
<circle cx="551.2" cy="346.9" r="2.2" fill="#fff" stroke="#2a2a2a" stroke-width="0.9"/>
<circle cx="551.2" cy="350.5" r="2.2" fill="#fff" stroke="#2a2a2a" stroke-width="0.9"/>
<circle cx="551.2" cy="381.7" r="2.2" fill="#fff" stroke="#2a2a2a" stroke-width="0.9"/>
<circle cx="566.8" cy="261.3" r="2.2" fill="#fff" stroke="#2a2a2a" stroke-width="0.9"/>
<circle cx="575.5" cy="263.9" r="2.2" fill="#fff" stroke="#2a2a2a" stroke-width="0.9"/>
<circle cx="571.2" cy="298.0" r="2.2" fill="#fff" stroke="#2a2a2a" stroke-width="0.9"/>
<path d="M551.2 256.7 V249.7 H571.2 V256.7" stroke="#222" stroke-width="0.9" fill="none"/>
<text x="561.0" y="249.1" font-size="10.50" text-anchor="middle" fill="#222" font-weight="bold" >**</text>
<text transform="translate(519.4,330.8) rotate(-90)" font-size="11.30" text-anchor="middle" fill="#222">CD4<tspan dy="-3.4" font-size="6.8">+</tspan><tspan dy="3.4"> cells/mm</tspan><tspan dy="-3.4" font-size="6.8">2</tspan></text>
<text x="605.0" y="227.7" font-size="15.00" text-anchor="start" fill="#111" font-weight="bold" >C</text>
<text transform="translate(621.3,328.0) rotate(-90)" font-size="11.50" text-anchor="middle" fill="#222">Cell number</text>
<rect x="675.1" y="249.9" width="24.9" height="157.8" fill="#AEABAC"/>
<rect x="660.2" y="379.0" width="13.3" height="28.7" fill="#F28C8E" stroke="#2a2a2a" stroke-width="0.9"/>
<rect x="680.2" y="319.1" width="12.8" height="88.6" fill="#B3B4E2" stroke="#2a2a2a" stroke-width="0.9"/>
<text transform="translate(648.6,411.1) scale(0.900,1)" font-size="9.40" text-anchor="end" fill="#222" font-weight="normal" >0</text>
<text transform="translate(648.6,372.4) scale(0.900,1)" font-size="9.40" text-anchor="end" fill="#222" font-weight="normal" >10000</text>
<text transform="translate(648.6,333.7) scale(0.900,1)" font-size="9.40" text-anchor="end" fill="#222" font-weight="normal" >20000</text>
<text transform="translate(648.6,295.1) scale(0.900,1)" font-size="9.40" text-anchor="end" fill="#222" font-weight="normal" >30000</text>
<text transform="translate(648.6,256.4) scale(0.900,1)" font-size="9.40" text-anchor="end" fill="#222" font-weight="normal" >40000</text>
<text transform="translate(666.9,422.4) scale(0.800,1)" font-size="9.60" text-anchor="middle" fill="#222" font-weight="normal" >1</text>
<text transform="translate(686.6,422.4) scale(0.800,1)" font-size="9.60" text-anchor="middle" fill="#222" font-weight="normal" >13</text>
<path d="M653.8 252.5 V408.2 M649.8 407.7 H700.0 M649.8 407.7 H653.8 M649.8 369.0 H653.8 M649.8 330.4 H653.8 M649.8 291.7 H653.8 M649.8 253.0 H653.8 M666.9 407.7 V411.7 M686.6 407.7 V411.7 " stroke="#3a3a3a" stroke-width="1.15" fill="none"/>
<text transform="translate(649.0,422.4) scale(0.780,1)" font-size="9.40" text-anchor="start" fill="#222" font-weight="normal" >ZT</text>
<path d="M666.9 372.0 V386.0 M664.2 372.0 H669.5 M664.2 386.0 H669.5" stroke="#222" stroke-width="0.9" fill="none"/>
<path d="M686.6 305.6 V332.0 M684.0 305.6 H689.2 M684.0 332.0 H689.2" stroke="#222" stroke-width="0.9" fill="none"/>
<circle cx="662.7" cy="353.6" r="2.2" fill="#fff" stroke="#2a2a2a" stroke-width="0.9"/>
<circle cx="671.3" cy="356.1" r="2.2" fill="#fff" stroke="#2a2a2a" stroke-width="0.9"/>
<circle cx="667.2" cy="372.6" r="2.2" fill="#fff" stroke="#2a2a2a" stroke-width="0.9"/>
<circle cx="667.2" cy="385.4" r="2.2" fill="#fff" stroke="#2a2a2a" stroke-width="0.9"/>
<circle cx="667.2" cy="390.8" r="2.2" fill="#fff" stroke="#2a2a2a" stroke-width="0.9"/>
<circle cx="671.3" cy="395.9" r="2.2" fill="#fff" stroke="#2a2a2a" stroke-width="0.9"/>
<circle cx="662.7" cy="399.7" r="2.2" fill="#fff" stroke="#2a2a2a" stroke-width="0.9"/>
<circle cx="682.5" cy="272.4" r="2.2" fill="#fff" stroke="#2a2a2a" stroke-width="0.9"/>
<circle cx="690.4" cy="274.5" r="2.2" fill="#fff" stroke="#2a2a2a" stroke-width="0.9"/>
<circle cx="686.3" cy="312.7" r="2.2" fill="#fff" stroke="#2a2a2a" stroke-width="0.9"/>
<circle cx="682.5" cy="329.0" r="2.2" fill="#fff" stroke="#2a2a2a" stroke-width="0.9"/>
<circle cx="690.8" cy="329.0" r="2.2" fill="#fff" stroke="#2a2a2a" stroke-width="0.9"/>
<circle cx="682.5" cy="357.3" r="2.2" fill="#fff" stroke="#2a2a2a" stroke-width="0.9"/>
<circle cx="690.8" cy="356.7" r="2.2" fill="#fff" stroke="#2a2a2a" stroke-width="0.9"/>
<path d="M666.5 262.6 V252.4 H686.3 V262.6" stroke="#222" stroke-width="0.9" fill="none"/>
<text x="675.5" y="251.5" font-size="10.50" text-anchor="middle" fill="#222" font-weight="bold" >**</text>
<text transform="translate(676.5,236.7) scale(0.880,1)" font-size="12.20" text-anchor="middle" fill="#222" font-weight="normal" >CD45<tspan dy="-4.0" font-size="7.3">+</tspan></text>
<rect x="747.2" y="249.8" width="25.5" height="157.8" fill="#AEABAC"/>
<rect x="734.1" y="382.1" width="12.7" height="25.5" fill="#F28C8E" stroke="#2a2a2a" stroke-width="0.9"/>
<rect x="753.2" y="317.7" width="12.8" height="89.9" fill="#B3B4E2" stroke="#2a2a2a" stroke-width="0.9"/>
<text transform="translate(721.9,411.0) scale(0.900,1)" font-size="9.40" text-anchor="end" fill="#222" font-weight="normal" >0</text>
<text transform="translate(721.9,380.2) scale(0.900,1)" font-size="9.40" text-anchor="end" fill="#222" font-weight="normal" >100</text>
<text transform="translate(721.9,349.4) scale(0.900,1)" font-size="9.40" text-anchor="end" fill="#222" font-weight="normal" >200</text>
<text transform="translate(721.9,318.6) scale(0.900,1)" font-size="9.40" text-anchor="end" fill="#222" font-weight="normal" >300</text>
<text transform="translate(721.9,287.9) scale(0.900,1)" font-size="9.40" text-anchor="end" fill="#222" font-weight="normal" >400</text>
<text transform="translate(721.9,257.1) scale(0.900,1)" font-size="9.40" text-anchor="end" fill="#222" font-weight="normal" >500</text>
<text transform="translate(740.5,422.3) scale(0.800,1)" font-size="9.60" text-anchor="middle" fill="#222" font-weight="normal" >1</text>
<text transform="translate(759.6,422.3) scale(0.800,1)" font-size="9.60" text-anchor="middle" fill="#222" font-weight="normal" >13</text>
<path d="M727.1 253.2 V408.1 M723.1 407.6 H772.7 M723.1 407.6 H727.1 M723.1 376.8 H727.1 M723.1 346.0 H727.1 M723.1 315.3 H727.1 M723.1 284.5 H727.1 M723.1 253.7 H727.1 M740.5 407.6 V411.6 M759.6 407.6 V411.6 " stroke="#3a3a3a" stroke-width="1.15" fill="none"/>
<text transform="translate(721.7,422.3) scale(0.780,1)" font-size="9.40" text-anchor="start" fill="#222" font-weight="normal" >ZT</text>
<path d="M740.5 374.0 V390.1 M737.9 374.0 H743.1 M737.9 390.1 H743.1" stroke="#222" stroke-width="0.9" fill="none"/>
<path d="M759.6 302.9 V332.2 M757.0 302.9 H762.2 M757.0 332.2 H762.2" stroke="#222" stroke-width="0.9" fill="none"/>
<circle cx="736.0" cy="355.9" r="2.2" fill="#fff" stroke="#2a2a2a" stroke-width="0.9"/>
<circle cx="744.6" cy="357.4" r="2.2" fill="#fff" stroke="#2a2a2a" stroke-width="0.9"/>
<circle cx="735.7" cy="383.6" r="2.2" fill="#fff" stroke="#2a2a2a" stroke-width="0.9"/>
<circle cx="744.6" cy="383.6" r="2.2" fill="#fff" stroke="#2a2a2a" stroke-width="0.9"/>
<circle cx="736.0" cy="390.1" r="2.2" fill="#fff" stroke="#2a2a2a" stroke-width="0.9"/>
<circle cx="744.6" cy="394.7" r="2.2" fill="#fff" stroke="#2a2a2a" stroke-width="0.9"/>
<circle cx="740.5" cy="404.5" r="2.2" fill="#fff" stroke="#2a2a2a" stroke-width="0.9"/>
<circle cx="759.6" cy="266.6" r="2.2" fill="#fff" stroke="#2a2a2a" stroke-width="0.9"/>
<circle cx="755.1" cy="285.7" r="2.2" fill="#fff" stroke="#2a2a2a" stroke-width="0.9"/>
<circle cx="763.7" cy="285.7" r="2.2" fill="#fff" stroke="#2a2a2a" stroke-width="0.9"/>
<circle cx="759.6" cy="320.5" r="2.2" fill="#fff" stroke="#2a2a2a" stroke-width="0.9"/>
<circle cx="759.6" cy="348.5" r="2.2" fill="#fff" stroke="#2a2a2a" stroke-width="0.9"/>
<circle cx="759.6" cy="355.0" r="2.2" fill="#fff" stroke="#2a2a2a" stroke-width="0.9"/>
<circle cx="759.6" cy="360.8" r="2.2" fill="#fff" stroke="#2a2a2a" stroke-width="0.9"/>
<path d="M739.8 257.2 V248.2 H759.6 V257.2" stroke="#222" stroke-width="0.9" fill="none"/>
<text x="748.4" y="248.5" font-size="10.50" text-anchor="middle" fill="#222" font-weight="bold" >**</text>
<text transform="translate(754.7,237.0) scale(0.880,1)" font-size="12.20" text-anchor="middle" fill="#222" font-weight="normal" >CD8<tspan dy="-4.0" font-size="7.3">+</tspan></text>
<rect x="821.7" y="249.8" width="24.9" height="157.8" fill="#AEABAC"/>
<rect x="808.3" y="384.6" width="12.8" height="23.0" fill="#F28C8E" stroke="#2a2a2a" stroke-width="0.9"/>
<rect x="827.5" y="335.3" width="12.7" height="72.3" fill="#B3B4E2" stroke="#2a2a2a" stroke-width="0.9"/>
<text transform="translate(796.1,411.0) scale(0.900,1)" font-size="9.40" text-anchor="end" fill="#222" font-weight="normal" >0</text>
<text transform="translate(796.1,380.2) scale(0.900,1)" font-size="9.40" text-anchor="end" fill="#222" font-weight="normal" >1000</text>
<text transform="translate(796.1,349.4) scale(0.900,1)" font-size="9.40" text-anchor="end" fill="#222" font-weight="normal" >2000</text>
<text transform="translate(796.1,318.6) scale(0.900,1)" font-size="9.40" text-anchor="end" fill="#222" font-weight="normal" >3000</text>
<text transform="translate(796.1,287.9) scale(0.900,1)" font-size="9.40" text-anchor="end" fill="#222" font-weight="normal" >4000</text>
<text transform="translate(796.1,257.1) scale(0.900,1)" font-size="9.40" text-anchor="end" fill="#222" font-weight="normal" >5000</text>
<text transform="translate(814.7,422.3) scale(0.800,1)" font-size="9.60" text-anchor="middle" fill="#222" font-weight="normal" >1</text>
<text transform="translate(833.9,422.3) scale(0.800,1)" font-size="9.60" text-anchor="middle" fill="#222" font-weight="normal" >13</text>
<path d="M801.3 253.2 V408.1 M797.3 407.6 H846.6 M797.3 407.6 H801.3 M797.3 376.8 H801.3 M797.3 346.0 H801.3 M797.3 315.3 H801.3 M797.3 284.5 H801.3 M797.3 253.7 H801.3 M814.7 407.6 V411.6 M833.9 407.6 V411.6 " stroke="#3a3a3a" stroke-width="1.15" fill="none"/>
<text transform="translate(795.5,422.3) scale(0.780,1)" font-size="9.40" text-anchor="start" fill="#222" font-weight="normal" >ZT</text>
<path d="M814.7 375.7 V393.4 M812.1 375.7 H817.3 M812.1 393.4 H817.3" stroke="#222" stroke-width="0.9" fill="none"/>
<path d="M833.9 321.5 V348.6 M831.2 321.5 H836.5 M831.2 348.6 H836.5" stroke="#222" stroke-width="0.9" fill="none"/>
<circle cx="814.1" cy="352.4" r="2.2" fill="#fff" stroke="#2a2a2a" stroke-width="0.9"/>
<circle cx="814.1" cy="373.2" r="2.2" fill="#fff" stroke="#2a2a2a" stroke-width="0.9"/>
<circle cx="809.9" cy="383.7" r="2.2" fill="#fff" stroke="#2a2a2a" stroke-width="0.9"/>
<circle cx="818.9" cy="383.7" r="2.2" fill="#fff" stroke="#2a2a2a" stroke-width="0.9"/>
<circle cx="814.1" cy="385.3" r="2.2" fill="#fff" stroke="#2a2a2a" stroke-width="0.9"/>
<circle cx="814.1" cy="394.2" r="2.2" fill="#fff" stroke="#2a2a2a" stroke-width="0.9"/>
<circle cx="814.1" cy="403.4" r="2.2" fill="#fff" stroke="#2a2a2a" stroke-width="0.9"/>
<circle cx="833.2" cy="270.6" r="2.2" fill="#fff" stroke="#2a2a2a" stroke-width="0.9"/>
<circle cx="833.2" cy="314.3" r="2.2" fill="#fff" stroke="#2a2a2a" stroke-width="0.9"/>
<circle cx="833.2" cy="331.1" r="2.2" fill="#fff" stroke="#2a2a2a" stroke-width="0.9"/>
<circle cx="829.1" cy="339.1" r="2.2" fill="#fff" stroke="#2a2a2a" stroke-width="0.9"/>
<circle cx="837.7" cy="339.1" r="2.2" fill="#fff" stroke="#2a2a2a" stroke-width="0.9"/>
<circle cx="833.2" cy="368.4" r="2.2" fill="#fff" stroke="#2a2a2a" stroke-width="0.9"/>
<circle cx="833.2" cy="383.0" r="2.2" fill="#fff" stroke="#2a2a2a" stroke-width="0.9"/>
<path d="M814.1 260.4 V251.4 H833.2 V260.4" stroke="#222" stroke-width="0.9" fill="none"/>
<text x="823.6" y="250.7" font-size="10.50" text-anchor="middle" fill="#222" font-weight="bold" >**</text>
<text transform="translate(826.0,237.0) scale(0.880,1)" font-size="12.20" text-anchor="middle" fill="#222" font-weight="normal" >CD4<tspan dy="-4.0" font-size="7.3">+</tspan></text>
<svg x="0" y="410" width="300" height="15.8" viewBox="0 410 300 15.8">
<text x="27.0" y="428.3" font-size="15.00" text-anchor="start" fill="#111" font-weight="bold" >D</text>
<text x="155.6" y="428.3" font-size="15.00" text-anchor="start" fill="#111" font-weight="bold" >E</text>
</svg>
<text x="52.2" y="438.9" font-size="10.60" text-anchor="start" fill="#333" font-weight="bold" >D</text>
<path d="M99.0 448.3 V660.8 M92.5 660.1 H379.2" stroke="#3a3a3a" stroke-width="1.15" fill="none"/>
<text x="85.2" y="664.5" font-size="9.60" text-anchor="end" fill="#444" font-weight="normal" >0</text>
<text x="85.2" y="594.1" font-size="9.60" text-anchor="end" fill="#444" font-weight="normal" >200</text>
<text x="85.2" y="523.7" font-size="9.60" text-anchor="end" fill="#444" font-weight="normal" >400</text>
<text x="85.2" y="453.3" font-size="9.60" text-anchor="end" fill="#444" font-weight="normal" >600</text>
<text x="99.0" y="679.0" font-size="8.80" text-anchor="middle" fill="#222" font-weight="normal" >4</text>
<text x="168.9" y="679.0" font-size="8.80" text-anchor="middle" fill="#222" font-weight="normal" >6</text>
<text x="238.8" y="679.0" font-size="8.80" text-anchor="middle" fill="#222" font-weight="normal" >8</text>
<text x="308.7" y="679.0" font-size="8.80" text-anchor="middle" fill="#222" font-weight="normal" >10</text>
<text x="378.6" y="679.0" font-size="8.80" text-anchor="middle" fill="#222" font-weight="normal" >12</text>
<path d="M92.5 660.1 H99.0 M92.5 589.7 H99.0 M92.5 519.3 H99.0 M92.5 448.9 H99.0 M99.0 660.1 V666.1 M168.9 660.1 V666.1 M238.8 660.1 V666.1 M308.7 660.1 V666.1 M378.6 660.1 V666.1 " stroke="#3a3a3a" stroke-width="1.2" fill="none"/>
<text x="70.0" y="679.0" font-size="8.80" text-anchor="start" fill="#222" font-weight="normal" >Day</text>
<text transform="translate(58.8,545.5) rotate(-90)" font-size="11.80" text-anchor="middle" fill="#333">Tumor volume/mm<tspan dy="-3.6" font-size="7">3</tspan></text>
<polyline points="99.0,649.5 107.7,648.1 116.5,644.6 133.9,649.2 142.7,643.6 151.4,642.5 168.9,647.8 177.6,641.8 186.4,641.8 203.9,641.8 212.6,640.7 221.3,640.0 238.8,636.5 247.5,635.5 256.3,631.9 273.8,631.9 282.5,628.1 291.2,628.1 308.7,623.8 317.4,621.4 326.2,616.5 343.7,609.8 352.4,606.2 361.1,600.3 378.6,599.2" fill="none" stroke="#7c84cc" stroke-width="1"/>
<polyline points="99.0,646.7 107.7,646.4 116.5,642.5 133.9,648.1 142.7,642.5 151.4,640.0 168.9,646.4 177.6,641.1 186.4,639.7 203.9,637.2 212.6,638.6 221.3,638.6 238.8,635.5 247.5,633.0 256.3,630.5 273.8,628.1 282.5,622.4 291.2,621.0 308.7,618.2 317.4,618.2 326.2,595.7 343.7,586.9 352.4,588.6 361.1,582.3 378.6,545.0" fill="none" stroke="#7c84cc" stroke-width="1"/>
<polyline points="99.0,644.3 107.7,646.0 116.5,641.1 133.9,645.7 142.7,641.1 151.4,637.6 168.9,643.6 177.6,640.4 186.4,635.1 203.9,634.1 212.6,636.2 221.3,636.5 238.8,634.8 247.5,629.8 256.3,625.6 273.8,626.7 282.5,621.0 291.2,618.2 308.7,608.0 317.4,602.0 326.2,595.0 343.7,579.8 352.4,573.9 361.1,554.9 378.6,519.3" fill="none" stroke="#7c84cc" stroke-width="1"/>
<polyline points="99.0,642.5 107.7,645.0 116.5,635.5 133.9,640.4 142.7,639.3 151.4,636.2 168.9,642.1 177.6,636.9 186.4,631.9 203.9,630.9 212.6,631.9 221.3,624.9 238.8,622.1 247.5,617.9 256.3,608.0 273.8,599.2 282.5,605.5 291.2,606.9 308.7,591.5 317.4,587.2 326.2,562.6 343.7,541.1 352.4,538.0 361.1,503.5 378.6,483.7" fill="none" stroke="#7c84cc" stroke-width="1"/>
<circle cx="99.0" cy="649.5" r="3.1" fill="#fff" stroke="#7c84cc" stroke-width="0.9"/>
<circle cx="107.7" cy="648.1" r="3.1" fill="#fff" stroke="#7c84cc" stroke-width="0.9"/>
<circle cx="116.5" cy="644.6" r="3.1" fill="#fff" stroke="#7c84cc" stroke-width="0.9"/>
<circle cx="133.9" cy="649.2" r="3.1" fill="#fff" stroke="#7c84cc" stroke-width="0.9"/>
<circle cx="142.7" cy="643.6" r="3.1" fill="#fff" stroke="#7c84cc" stroke-width="0.9"/>
<circle cx="151.4" cy="642.5" r="3.1" fill="#fff" stroke="#7c84cc" stroke-width="0.9"/>
<circle cx="168.9" cy="647.8" r="3.1" fill="#fff" stroke="#7c84cc" stroke-width="0.9"/>
<circle cx="177.6" cy="641.8" r="3.1" fill="#fff" stroke="#7c84cc" stroke-width="0.9"/>
<circle cx="186.4" cy="641.8" r="3.1" fill="#fff" stroke="#7c84cc" stroke-width="0.9"/>
<circle cx="203.9" cy="641.8" r="3.1" fill="#fff" stroke="#7c84cc" stroke-width="0.9"/>
<circle cx="212.6" cy="640.7" r="3.1" fill="#fff" stroke="#7c84cc" stroke-width="0.9"/>
<circle cx="221.3" cy="640.0" r="3.1" fill="#fff" stroke="#7c84cc" stroke-width="0.9"/>
<circle cx="238.8" cy="636.5" r="3.1" fill="#fff" stroke="#7c84cc" stroke-width="0.9"/>
<circle cx="247.5" cy="635.5" r="3.1" fill="#fff" stroke="#7c84cc" stroke-width="0.9"/>
<circle cx="256.3" cy="631.9" r="3.1" fill="#fff" stroke="#7c84cc" stroke-width="0.9"/>
<circle cx="273.8" cy="631.9" r="3.1" fill="#fff" stroke="#7c84cc" stroke-width="0.9"/>
<circle cx="282.5" cy="628.1" r="3.1" fill="#fff" stroke="#7c84cc" stroke-width="0.9"/>
<circle cx="291.2" cy="628.1" r="3.1" fill="#fff" stroke="#7c84cc" stroke-width="0.9"/>
<circle cx="308.7" cy="623.8" r="3.1" fill="#fff" stroke="#7c84cc" stroke-width="0.9"/>
<circle cx="317.4" cy="621.4" r="3.1" fill="#fff" stroke="#7c84cc" stroke-width="0.9"/>
<circle cx="326.2" cy="616.5" r="3.1" fill="#fff" stroke="#7c84cc" stroke-width="0.9"/>
<circle cx="343.7" cy="609.8" r="3.1" fill="#fff" stroke="#7c84cc" stroke-width="0.9"/>
<circle cx="352.4" cy="606.2" r="3.1" fill="#fff" stroke="#7c84cc" stroke-width="0.9"/>
<circle cx="361.1" cy="600.3" r="3.1" fill="#fff" stroke="#7c84cc" stroke-width="0.9"/>
<circle cx="378.6" cy="599.2" r="3.1" fill="#fff" stroke="#7c84cc" stroke-width="0.9"/>
<circle cx="99.0" cy="646.7" r="3.1" fill="#fff" stroke="#7c84cc" stroke-width="0.9"/>
<circle cx="107.7" cy="646.4" r="3.1" fill="#fff" stroke="#7c84cc" stroke-width="0.9"/>
<circle cx="116.5" cy="642.5" r="3.1" fill="#fff" stroke="#7c84cc" stroke-width="0.9"/>
<circle cx="133.9" cy="648.1" r="3.1" fill="#fff" stroke="#7c84cc" stroke-width="0.9"/>
<circle cx="142.7" cy="642.5" r="3.1" fill="#fff" stroke="#7c84cc" stroke-width="0.9"/>
<circle cx="151.4" cy="640.0" r="3.1" fill="#fff" stroke="#7c84cc" stroke-width="0.9"/>
<circle cx="168.9" cy="646.4" r="3.1" fill="#fff" stroke="#7c84cc" stroke-width="0.9"/>
<circle cx="177.6" cy="641.1" r="3.1" fill="#fff" stroke="#7c84cc" stroke-width="0.9"/>
<circle cx="186.4" cy="639.7" r="3.1" fill="#fff" stroke="#7c84cc" stroke-width="0.9"/>
<circle cx="203.9" cy="637.2" r="3.1" fill="#fff" stroke="#7c84cc" stroke-width="0.9"/>
<circle cx="212.6" cy="638.6" r="3.1" fill="#fff" stroke="#7c84cc" stroke-width="0.9"/>
<circle cx="221.3" cy="638.6" r="3.1" fill="#fff" stroke="#7c84cc" stroke-width="0.9"/>
<circle cx="238.8" cy="635.5" r="3.1" fill="#fff" stroke="#7c84cc" stroke-width="0.9"/>
<circle cx="247.5" cy="633.0" r="3.1" fill="#fff" stroke="#7c84cc" stroke-width="0.9"/>
<circle cx="256.3" cy="630.5" r="3.1" fill="#fff" stroke="#7c84cc" stroke-width="0.9"/>
<circle cx="273.8" cy="628.1" r="3.1" fill="#fff" stroke="#7c84cc" stroke-width="0.9"/>
<circle cx="282.5" cy="622.4" r="3.1" fill="#fff" stroke="#7c84cc" stroke-width="0.9"/>
<circle cx="291.2" cy="621.0" r="3.1" fill="#fff" stroke="#7c84cc" stroke-width="0.9"/>
<circle cx="308.7" cy="618.2" r="3.1" fill="#fff" stroke="#7c84cc" stroke-width="0.9"/>
<circle cx="317.4" cy="618.2" r="3.1" fill="#fff" stroke="#7c84cc" stroke-width="0.9"/>
<circle cx="326.2" cy="595.7" r="3.1" fill="#fff" stroke="#7c84cc" stroke-width="0.9"/>
<circle cx="343.7" cy="586.9" r="3.1" fill="#fff" stroke="#7c84cc" stroke-width="0.9"/>
<circle cx="352.4" cy="588.6" r="3.1" fill="#fff" stroke="#7c84cc" stroke-width="0.9"/>
<circle cx="361.1" cy="582.3" r="3.1" fill="#fff" stroke="#7c84cc" stroke-width="0.9"/>
<circle cx="378.6" cy="545.0" r="3.1" fill="#fff" stroke="#7c84cc" stroke-width="0.9"/>
<circle cx="99.0" cy="644.3" r="3.1" fill="#fff" stroke="#7c84cc" stroke-width="0.9"/>
<circle cx="107.7" cy="646.0" r="3.1" fill="#fff" stroke="#7c84cc" stroke-width="0.9"/>
<circle cx="116.5" cy="641.1" r="3.1" fill="#fff" stroke="#7c84cc" stroke-width="0.9"/>
<circle cx="133.9" cy="645.7" r="3.1" fill="#fff" stroke="#7c84cc" stroke-width="0.9"/>
<circle cx="142.7" cy="641.1" r="3.1" fill="#fff" stroke="#7c84cc" stroke-width="0.9"/>
<circle cx="151.4" cy="637.6" r="3.1" fill="#fff" stroke="#7c84cc" stroke-width="0.9"/>
<circle cx="168.9" cy="643.6" r="3.1" fill="#fff" stroke="#7c84cc" stroke-width="0.9"/>
<circle cx="177.6" cy="640.4" r="3.1" fill="#fff" stroke="#7c84cc" stroke-width="0.9"/>
<circle cx="186.4" cy="635.1" r="3.1" fill="#fff" stroke="#7c84cc" stroke-width="0.9"/>
<circle cx="203.9" cy="634.1" r="3.1" fill="#fff" stroke="#7c84cc" stroke-width="0.9"/>
<circle cx="212.6" cy="636.2" r="3.1" fill="#fff" stroke="#7c84cc" stroke-width="0.9"/>
<circle cx="221.3" cy="636.5" r="3.1" fill="#fff" stroke="#7c84cc" stroke-width="0.9"/>
<circle cx="238.8" cy="634.8" r="3.1" fill="#fff" stroke="#7c84cc" stroke-width="0.9"/>
<circle cx="247.5" cy="629.8" r="3.1" fill="#fff" stroke="#7c84cc" stroke-width="0.9"/>
<circle cx="256.3" cy="625.6" r="3.1" fill="#fff" stroke="#7c84cc" stroke-width="0.9"/>
<circle cx="273.8" cy="626.7" r="3.1" fill="#fff" stroke="#7c84cc" stroke-width="0.9"/>
<circle cx="282.5" cy="621.0" r="3.1" fill="#fff" stroke="#7c84cc" stroke-width="0.9"/>
<circle cx="291.2" cy="618.2" r="3.1" fill="#fff" stroke="#7c84cc" stroke-width="0.9"/>
<circle cx="308.7" cy="608.0" r="3.1" fill="#fff" stroke="#7c84cc" stroke-width="0.9"/>
<circle cx="317.4" cy="602.0" r="3.1" fill="#fff" stroke="#7c84cc" stroke-width="0.9"/>
<circle cx="326.2" cy="595.0" r="3.1" fill="#fff" stroke="#7c84cc" stroke-width="0.9"/>
<circle cx="343.7" cy="579.8" r="3.1" fill="#fff" stroke="#7c84cc" stroke-width="0.9"/>
<circle cx="352.4" cy="573.9" r="3.1" fill="#fff" stroke="#7c84cc" stroke-width="0.9"/>
<circle cx="361.1" cy="554.9" r="3.1" fill="#fff" stroke="#7c84cc" stroke-width="0.9"/>
<circle cx="378.6" cy="519.3" r="3.1" fill="#fff" stroke="#7c84cc" stroke-width="0.9"/>
<circle cx="99.0" cy="642.5" r="3.1" fill="#fff" stroke="#7c84cc" stroke-width="0.9"/>
<circle cx="107.7" cy="645.0" r="3.1" fill="#fff" stroke="#7c84cc" stroke-width="0.9"/>
<circle cx="116.5" cy="635.5" r="3.1" fill="#fff" stroke="#7c84cc" stroke-width="0.9"/>
<circle cx="133.9" cy="640.4" r="3.1" fill="#fff" stroke="#7c84cc" stroke-width="0.9"/>
<circle cx="142.7" cy="639.3" r="3.1" fill="#fff" stroke="#7c84cc" stroke-width="0.9"/>
<circle cx="151.4" cy="636.2" r="3.1" fill="#fff" stroke="#7c84cc" stroke-width="0.9"/>
<circle cx="168.9" cy="642.1" r="3.1" fill="#fff" stroke="#7c84cc" stroke-width="0.9"/>
<circle cx="177.6" cy="636.9" r="3.1" fill="#fff" stroke="#7c84cc" stroke-width="0.9"/>
<circle cx="186.4" cy="631.9" r="3.1" fill="#fff" stroke="#7c84cc" stroke-width="0.9"/>
<circle cx="203.9" cy="630.9" r="3.1" fill="#fff" stroke="#7c84cc" stroke-width="0.9"/>
<circle cx="212.6" cy="631.9" r="3.1" fill="#fff" stroke="#7c84cc" stroke-width="0.9"/>
<circle cx="221.3" cy="624.9" r="3.1" fill="#fff" stroke="#7c84cc" stroke-width="0.9"/>
<circle cx="238.8" cy="622.1" r="3.1" fill="#fff" stroke="#7c84cc" stroke-width="0.9"/>
<circle cx="247.5" cy="617.9" r="3.1" fill="#fff" stroke="#7c84cc" stroke-width="0.9"/>
<circle cx="256.3" cy="608.0" r="3.1" fill="#fff" stroke="#7c84cc" stroke-width="0.9"/>
<circle cx="273.8" cy="599.2" r="3.1" fill="#fff" stroke="#7c84cc" stroke-width="0.9"/>
<circle cx="282.5" cy="605.5" r="3.1" fill="#fff" stroke="#7c84cc" stroke-width="0.9"/>
<circle cx="291.2" cy="606.9" r="3.1" fill="#fff" stroke="#7c84cc" stroke-width="0.9"/>
<circle cx="308.7" cy="591.5" r="3.1" fill="#fff" stroke="#7c84cc" stroke-width="0.9"/>
<circle cx="317.4" cy="587.2" r="3.1" fill="#fff" stroke="#7c84cc" stroke-width="0.9"/>
<circle cx="326.2" cy="562.6" r="3.1" fill="#fff" stroke="#7c84cc" stroke-width="0.9"/>
<circle cx="343.7" cy="541.1" r="3.1" fill="#fff" stroke="#7c84cc" stroke-width="0.9"/>
<circle cx="352.4" cy="538.0" r="3.1" fill="#fff" stroke="#7c84cc" stroke-width="0.9"/>
<circle cx="361.1" cy="503.5" r="3.1" fill="#fff" stroke="#7c84cc" stroke-width="0.9"/>
<circle cx="378.6" cy="483.7" r="3.1" fill="#fff" stroke="#7c84cc" stroke-width="0.9"/>
<polyline points="99.0,645.8 107.7,646.4 116.5,640.9 133.9,645.8 142.7,641.6 151.4,639.1 168.9,645.0 177.6,640.0 186.4,637.1 203.9,636.0 212.6,636.9 221.3,635.0 238.8,632.2 247.5,629.0 256.3,624.0 273.8,621.5 282.5,619.3 291.2,618.6 308.7,610.4 317.4,607.2 326.2,592.4 343.7,579.4 352.4,576.7 361.1,560.2 378.6,536.8" fill="none" stroke="#f28a8c" stroke-width="1"/>
<text transform="translate(445.6,561.0) rotate(-90)" font-size="14.80" text-anchor="middle" fill="#222" textLength="168.0" lengthAdjust="spacingAndGlyphs">Cell number (normalized)</text>
<rect x="529.2" y="463.9" width="66.4" height="195.9" fill="#AEABAC"/>
<path d="M467.5 467.0 V660.5 M462.0 659.8 H595.6" stroke="#3a3a3a" stroke-width="1.50" fill="none"/>
<text x="459.5" y="663.8" font-size="11.00" text-anchor="end" fill="#333" font-weight="normal" >0</text>
<text x="459.5" y="615.8" font-size="11.00" text-anchor="end" fill="#333" font-weight="normal" >1</text>
<text x="459.5" y="567.8" font-size="11.00" text-anchor="end" fill="#333" font-weight="normal" >2</text>
<text x="459.5" y="519.8" font-size="11.00" text-anchor="end" fill="#333" font-weight="normal" >3</text>
<text x="459.5" y="471.8" font-size="11.00" text-anchor="end" fill="#333" font-weight="normal" >4</text>
<text x="472.9" y="678.2" font-size="11.00" text-anchor="middle" fill="#222" font-weight="normal" >1</text>
<text x="505.2" y="678.2" font-size="11.00" text-anchor="middle" fill="#222" font-weight="normal" >7</text>
<text x="537.6" y="678.2" font-size="11.00" text-anchor="middle" fill="#222" font-weight="normal" >13</text>
<text x="569.9" y="678.2" font-size="11.00" text-anchor="middle" fill="#222" font-weight="normal" >19</text>
<path d="M462.0 659.8 H467.5 M462.0 611.8 H467.5 M462.0 563.8 H467.5 M462.0 515.8 H467.5 M462.0 467.8 H467.5 M472.9 659.8 V665.3 M505.2 659.8 V665.3 M537.6 659.8 V665.3 M569.9 659.8 V665.3 " stroke="#3a3a3a" stroke-width="1.50" fill="none"/>
<polyline points="467.5,625.5 468.8,625.0 470.2,624.4 471.5,623.6 472.9,622.6 474.2,621.4 475.6,620.0 476.9,618.4 478.3,616.6 479.6,614.7 481.0,612.7 482.3,610.5 483.7,608.1 485.0,605.6 486.4,603.0 487.7,600.3 489.1,597.5 490.4,594.6 491.8,591.7 493.1,588.7 494.4,585.6 495.8,582.5 497.1,579.4 498.5,576.3 499.8,573.2 501.2,570.2 502.5,567.1 503.9,564.1 505.2,561.2 506.6,558.3 507.9,555.5 509.3,552.8 510.6,550.3 512.0,547.8 513.3,545.5 514.7,543.3 516.0,541.3 517.4,539.4 518.7,537.7 520.1,536.1 521.4,534.8 522.7,533.6 524.1,532.6 525.4,531.9 526.8,531.3 528.1,530.9 529.5,530.7 530.8,530.7 532.2,530.9 533.5,531.4 534.9,532.0 536.2,532.8 537.6,533.8 538.9,535.0 540.3,536.4 541.6,538.0 543.0,539.8 544.3,541.7 545.7,543.7 547.0,545.9 548.4,548.3 549.7,550.8 551.0,553.4 552.4,556.1 553.7,558.9 555.1,561.8 556.4,564.7 557.8,567.7 559.1,570.8 560.5,573.9 561.8,577.0 563.2,580.1 564.5,583.2 565.9,586.2 567.2,589.3 568.6,592.3 569.9,595.2 571.3,598.1 572.6,600.9 574.0,603.6 575.3,606.1 576.6,608.6 578.0,610.9 579.3,613.1 580.7,615.1 582.0,617.0 583.4,618.7 584.7,620.3 586.1,621.6 587.4,622.8 588.8,623.8 590.1,624.5 591.5,625.1 592.8,625.5 594.2,625.7 595.5,625.7 596.9,625.5" fill="none" stroke="#111" stroke-width="1.65"/>
<polyline points="467.5,597.6 468.8,597.2 470.2,596.5 471.5,595.7 472.9,594.6 474.2,593.3 475.6,591.9 476.9,590.3 478.3,588.4 479.6,586.5 481.0,584.3 482.3,582.0 483.7,579.6 485.0,577.0 486.4,574.3 487.7,571.5 489.1,568.5 490.4,565.6 491.8,562.5 493.1,559.4 494.4,556.2 495.8,553.0 497.1,549.7 498.5,546.5 499.8,543.3 501.2,540.1 502.5,536.9 503.9,533.8 505.2,530.7 506.6,527.7 507.9,524.8 509.3,522.1 510.6,519.4 512.0,516.8 513.3,514.4 514.7,512.1 516.0,510.0 517.4,508.1 518.7,506.3 520.1,504.7 521.4,503.3 522.7,502.1 524.1,501.0 525.4,500.2 526.8,499.6 528.1,499.2 529.5,499.0 530.8,499.0 532.2,499.3 533.5,499.7 534.9,500.4 536.2,501.2 537.6,502.3 538.9,503.5 540.3,505.0 541.6,506.6 543.0,508.4 544.3,510.4 545.7,512.6 547.0,514.9 548.4,517.3 549.7,519.9 551.0,522.6 552.4,525.4 553.7,528.3 555.1,531.3 556.4,534.4 557.8,537.5 559.1,540.7 560.5,543.9 561.8,547.1 563.2,550.4 564.5,553.6 565.9,556.8 567.2,560.0 568.6,563.1 569.9,566.2 571.3,569.1 572.6,572.0 574.0,574.8 575.3,577.5 576.6,580.1 578.0,582.5 579.3,584.7 580.7,586.9 582.0,588.8 583.4,590.6 584.7,592.2 586.1,593.6 587.4,594.8 588.8,595.8 590.1,596.7 591.5,597.3 592.8,597.7 594.2,597.9 595.5,597.8 596.9,597.6" fill="none" stroke="#111" stroke-width="2.80" stroke-dasharray="0.01 5.0" stroke-linecap="round"/>
<polyline points="467.5,657.1 468.8,656.7 470.2,656.1 471.5,655.2 472.9,654.2 474.2,652.9 475.6,651.5 476.9,649.9 478.3,648.1 479.6,646.2 481.0,644.1 482.3,641.8 483.7,639.4 485.0,636.9 486.4,634.3 487.7,631.5 489.1,628.6 490.4,625.7 491.8,622.7 493.1,619.6 494.4,616.5 495.8,613.4 497.1,610.2 498.5,607.0 499.8,603.9 501.2,600.7 502.5,597.6 503.9,594.5 505.2,591.5 506.6,588.6 507.9,585.8 509.3,583.1 510.6,580.4 512.0,577.9 513.3,575.5 514.7,573.3 516.0,571.2 517.4,569.3 518.7,567.6 520.1,566.0 521.4,564.6 522.7,563.4 524.1,562.4 525.4,561.6 526.8,561.0 528.1,560.6 529.5,560.5 530.8,560.5 532.2,560.7 533.5,561.1 534.9,561.8 536.2,562.6 537.6,563.7 538.9,564.9 540.3,566.3 541.6,567.9 543.0,569.7 544.3,571.6 545.7,573.8 547.0,576.0 548.4,578.4 549.7,580.9 551.0,583.6 552.4,586.3 553.7,589.2 555.1,592.1 556.4,595.2 557.8,598.2 559.1,601.3 560.5,604.5 561.8,607.7 563.2,610.8 564.5,614.0 565.9,617.1 567.2,620.2 568.6,623.3 569.9,626.3 571.3,629.2 572.6,632.1 574.0,634.8 575.3,637.4 576.6,639.9 578.0,642.3 579.3,644.5 580.7,646.6 582.0,648.5 583.4,650.3 584.7,651.8 586.1,653.2 587.4,654.4 588.8,655.4 590.1,656.2 591.5,656.8 592.8,657.2 594.2,657.4 595.5,657.4 596.9,657.1" fill="none" stroke="#111" stroke-width="2.80" stroke-dasharray="0.01 5.0" stroke-linecap="round"/>
<path d="M472.5 603.2 V619.5 M469.1 603.5 H475.9 M469.1 619.5 H475.9" stroke="#404040" stroke-width="1.40" fill="none"/>
<circle cx="472.9" cy="611.8" r="3.5" fill="#0a0a0a"/>
<path d="M505.5 553.2 V591.2 M502.1 553.5 H508.9 M502.1 591.5 H508.9" stroke="#404040" stroke-width="1.40" fill="none"/>
<circle cx="505.2" cy="572.0" r="3.5" fill="#0a0a0a"/>
<path d="M537.5 493.2 V548.0 M534.1 493.5 H540.9 M534.1 548.5 H540.9" stroke="#404040" stroke-width="1.40" fill="none"/>
<circle cx="537.6" cy="520.6" r="3.5" fill="#0a0a0a"/>
<path d="M569.5 599.3 V622.1 M566.1 599.5 H572.9 M566.1 622.5 H572.9" stroke="#404040" stroke-width="1.40" fill="none"/>
<circle cx="569.9" cy="610.8" r="3.5" fill="#0a0a0a"/>
<text transform="translate(528.5,450.2) scale(1.150,1)" font-size="13.20" text-anchor="middle" fill="#222" font-weight="normal" >CD19<tspan dy="-4.4" font-size="7.9">+</tspan></text>
<text transform="translate(574.4,479.5) scale(1.300,1)" font-size="12.00" text-anchor="middle" fill="#222" font-weight="bold" >***</text>
<text x="610.2" y="441.8" font-size="13.40" text-anchor="start" fill="#111" font-weight="bold" >C</text>
<text transform="translate(624.2,561.0) rotate(-90)" font-size="14.80" text-anchor="middle" fill="#222" textLength="168.0" lengthAdjust="spacingAndGlyphs">Cell number (normalized)</text>
<rect x="721.3" y="460.3" width="71.6" height="201.5" fill="#D4D4D4"/>
<path d="M661.0 467.3 V662.5 M655.5 661.8 H792.9" stroke="#3a3a3a" stroke-width="1.50" fill="none"/>
<text x="653.0" y="665.7" font-size="10.80" text-anchor="end" fill="#333" font-weight="normal" >0.0</text>
<text x="653.0" y="617.3" font-size="10.80" text-anchor="end" fill="#333" font-weight="normal" >0.5</text>
<text x="653.0" y="568.8" font-size="10.80" text-anchor="end" fill="#333" font-weight="normal" >1.0</text>
<text x="653.0" y="520.4" font-size="10.80" text-anchor="end" fill="#333" font-weight="normal" >1.5</text>
<text x="653.0" y="472.0" font-size="10.80" text-anchor="end" fill="#333" font-weight="normal" >2.0</text>
<text x="666.4" y="683.2" font-size="10.80" text-anchor="middle" fill="#222" font-weight="normal" >1</text>
<text x="698.9" y="683.2" font-size="10.80" text-anchor="middle" fill="#222" font-weight="normal" >7</text>
<text x="731.3" y="683.2" font-size="10.80" text-anchor="middle" fill="#222" font-weight="normal" >13</text>
<text x="763.8" y="683.2" font-size="10.80" text-anchor="middle" fill="#222" font-weight="normal" >19</text>
<path d="M655.5 661.8 H661.0 M655.5 613.4 H661.0 M655.5 564.9 H661.0 M655.5 516.5 H661.0 M655.5 468.1 H661.0 M666.4 661.8 V667.3 M698.9 661.8 V667.3 M731.3 661.8 V667.3 M763.8 661.8 V667.3 " stroke="#3a3a3a" stroke-width="1.50" fill="none"/>
<polyline points="661.0,565.7 662.4,562.8 663.7,560.1 665.1,557.4 666.4,554.8 667.8,552.3 669.1,549.9 670.5,547.6 671.8,545.5 673.2,543.5 674.5,541.6 675.9,539.9 677.2,538.3 678.6,537.0 679.9,535.7 681.3,534.7 682.6,533.8 684.0,533.2 685.3,532.7 686.7,532.4 688.0,532.3 689.4,532.4 690.8,532.7 692.1,533.2 693.5,533.8 694.8,534.7 696.2,535.7 697.5,537.0 698.9,538.3 700.2,539.9 701.6,541.6 702.9,543.5 704.3,545.5 705.6,547.6 707.0,549.9 708.3,552.3 709.7,554.8 711.0,557.4 712.4,560.1 713.7,562.8 715.1,565.7 716.5,568.5 717.8,571.4 719.2,574.4 720.5,577.3 721.9,580.2 723.2,583.2 724.6,586.1 725.9,588.9 727.3,591.8 728.6,594.5 730.0,597.2 731.3,599.8 732.7,602.3 734.0,604.7 735.4,607.0 736.7,609.1 738.1,611.1 739.4,613.0 740.8,614.7 742.1,616.3 743.5,617.6 744.9,618.9 746.2,619.9 747.6,620.8 748.9,621.4 750.3,621.9 751.6,622.2 753.0,622.3 754.3,622.2 755.7,621.9 757.0,621.4 758.4,620.8 759.7,619.9 761.1,618.9 762.4,617.6 763.8,616.3 765.1,614.7 766.5,613.0 767.8,611.1 769.2,609.1 770.6,607.0 771.9,604.7 773.3,602.3 774.6,599.8 776.0,597.2 777.3,594.5 778.7,591.8 780.0,588.9 781.4,586.1 782.7,583.2 784.1,580.2 785.4,577.3 786.8,574.4 788.1,571.4 789.5,568.5 790.8,565.7" fill="none" stroke="#111" stroke-width="1.65"/>
<polyline points="661.0,543.9 662.4,541.2 663.7,538.5 665.1,535.9 666.4,533.4 667.8,530.9 669.1,528.6 670.5,526.4 671.8,524.3 673.2,522.3 674.5,520.5 675.9,518.8 677.2,517.3 678.6,516.0 679.9,514.8 681.3,513.8 682.6,512.9 684.0,512.3 685.3,511.8 686.7,511.5 688.0,511.4 689.4,511.5 690.8,511.8 692.1,512.3 693.5,512.9 694.8,513.8 696.2,514.8 697.5,516.0 698.9,517.3 700.2,518.8 701.6,520.5 702.9,522.3 704.3,524.3 705.6,526.4 707.0,528.6 708.3,530.9 709.7,533.4 711.0,535.9 712.4,538.5 713.7,541.2 715.1,543.9 716.5,546.7 717.8,549.5 719.2,552.4 720.5,555.3 721.9,558.1 723.2,561.0 724.6,563.8 725.9,566.6 727.3,569.4 728.6,572.0 730.0,574.6 731.3,577.2 732.7,579.6 734.0,581.9 735.4,584.2 736.7,586.3 738.1,588.2 739.4,590.0 740.8,591.7 742.1,593.2 743.5,594.6 744.9,595.8 746.2,596.8 747.6,597.6 748.9,598.2 750.3,598.7 751.6,599.0 753.0,599.1 754.3,599.0 755.7,598.7 757.0,598.2 758.4,597.6 759.7,596.8 761.1,595.8 762.4,594.6 763.8,593.2 765.1,591.7 766.5,590.0 767.8,588.2 769.2,586.3 770.6,584.2 771.9,581.9 773.3,579.6 774.6,577.2 776.0,574.6 777.3,572.0 778.7,569.4 780.0,566.6 781.4,563.8 782.7,561.0 784.1,558.1 785.4,555.3 786.8,552.4 788.1,549.5 789.5,546.7 790.8,543.9" fill="none" stroke="#111" stroke-width="2.80" stroke-dasharray="0.01 5.0" stroke-linecap="round"/>
<polyline points="661.0,587.3 662.4,584.5 663.7,581.6 665.1,578.9 666.4,576.2 667.8,573.6 669.1,571.1 670.5,568.8 671.8,566.6 673.2,564.5 674.5,562.6 675.9,560.8 677.2,559.2 678.6,557.8 679.9,556.6 681.3,555.5 682.6,554.6 684.0,553.9 685.3,553.4 686.7,553.1 688.0,553.0 689.4,553.1 690.8,553.4 692.1,553.9 693.5,554.6 694.8,555.5 696.2,556.6 697.5,557.8 698.9,559.2 700.2,560.8 701.6,562.6 702.9,564.5 704.3,566.6 705.6,568.8 707.0,571.1 708.3,573.6 709.7,576.2 711.0,578.9 712.4,581.6 713.7,584.5 715.1,587.3 716.5,590.3 717.8,593.3 719.2,596.3 720.5,599.3 721.9,602.4 723.2,605.4 724.6,608.4 725.9,611.3 727.3,614.2 728.6,617.0 730.0,619.8 731.3,622.5 732.7,625.1 734.0,627.5 735.4,629.9 736.7,632.1 738.1,634.1 739.4,636.1 740.8,637.8 742.1,639.4 743.5,640.9 744.9,642.1 746.2,643.2 747.6,644.0 748.9,644.7 750.3,645.2 751.6,645.5 753.0,645.6 754.3,645.5 755.7,645.2 757.0,644.7 758.4,644.0 759.7,643.2 761.1,642.1 762.4,640.9 763.8,639.4 765.1,637.8 766.5,636.1 767.8,634.1 769.2,632.1 770.6,629.9 771.9,627.5 773.3,625.1 774.6,622.5 776.0,619.8 777.3,617.0 778.7,614.2 780.0,611.3 781.4,608.4 782.7,605.4 784.1,602.4 785.4,599.3 786.8,596.3 788.1,593.3 789.5,590.3 790.8,587.3" fill="none" stroke="#111" stroke-width="2.80" stroke-dasharray="0.01 5.0" stroke-linecap="round"/>
<path d="M666.5 556.9 V572.7 M663.1 557.5 H669.9 M663.1 573.5 H669.9" stroke="#404040" stroke-width="1.40" fill="none"/>
<circle cx="666.4" cy="564.9" r="3.5" fill="#0a0a0a"/>
<path d="M698.5 506.8 V546.0 M695.1 507.5 H701.9 M695.1 546.5 H701.9" stroke="#404040" stroke-width="1.40" fill="none"/>
<circle cx="698.9" cy="526.4" r="3.5" fill="#0a0a0a"/>
<path d="M731.5 602.7 V616.8 M728.1 603.5 H734.9 M728.1 617.5 H734.9" stroke="#404040" stroke-width="1.40" fill="none"/>
<circle cx="731.3" cy="609.4" r="3.5" fill="#0a0a0a"/>
<path d="M763.5 595.0 V607.8 M760.1 595.5 H766.9 M760.1 608.5 H766.9" stroke="#404040" stroke-width="1.40" fill="none"/>
<circle cx="763.8" cy="601.1" r="3.5" fill="#0a0a0a"/>
<text transform="translate(718.5,450.2) scale(1.120,1)" font-size="13.20" text-anchor="middle" fill="#222" font-weight="normal" >Blood CD45<tspan dy="-4.4" font-size="7.9">+</tspan></text>
<text transform="translate(776.8,478.5) scale(1.300,1)" font-size="12.00" text-anchor="middle" fill="#222" font-weight="bold" >****</text>
</svg></body></html>
